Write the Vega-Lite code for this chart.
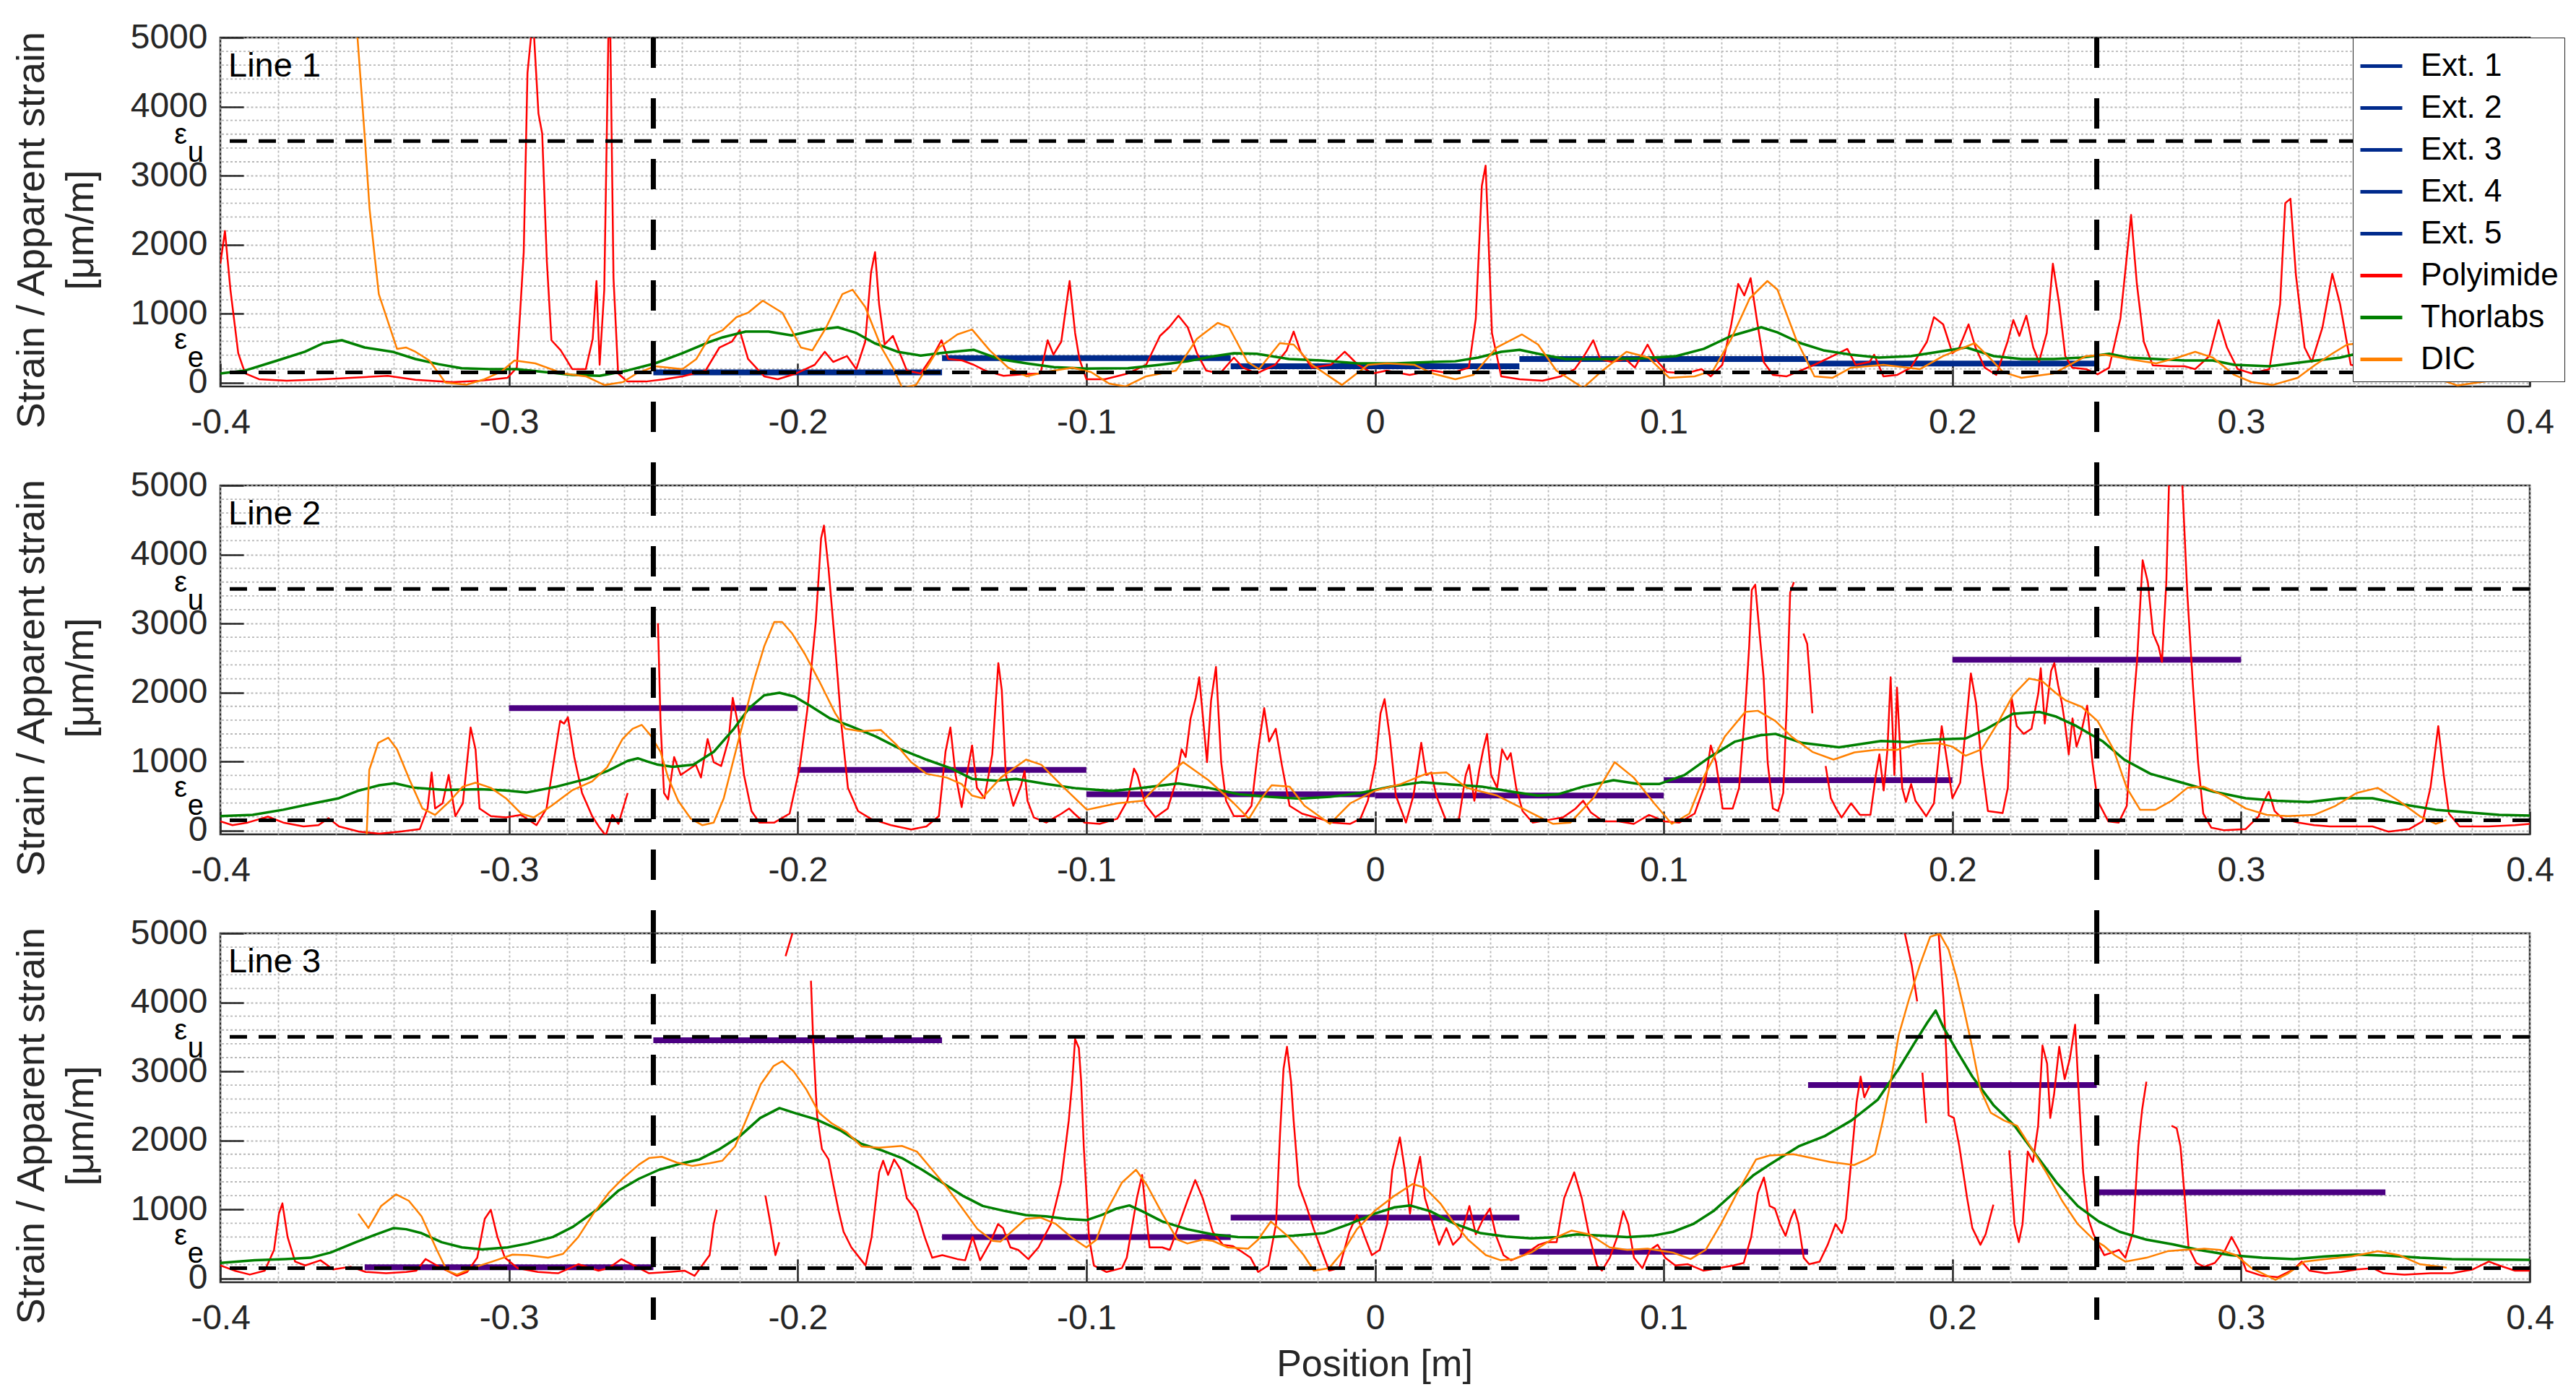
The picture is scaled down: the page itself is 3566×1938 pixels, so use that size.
{
  "$schema": "https://vega.github.io/schema/vega-lite/v6.json",
  "background": "white",
  "padding": {"left": 15, "top": 26, "right": 10, "bottom": 10},
  "bounds": "flush",
  "title": {"text": "Position [m]", "orient": "bottom", "anchor": "middle", "frame": "group", "dx": 1598, "fontSize": 52, "fontWeight": "normal", "font": "Liberation Sans", "color": "#262626", "offset": 14},
  "data": {"values": [
    {"p":1,"s":"g","y":200},{"p":1,"s":"g","y":400},{"p":1,"s":"g","y":600},{"p":1,"s":"g","y":800},{"p":1,"s":"g","y":1200},{"p":1,"s":"g","y":1400},{"p":1,"s":"g","y":1600},{"p":1,"s":"g","y":1800},{"p":1,"s":"g","y":2200},{"p":1,"s":"g","y":2400},{"p":1,"s":"g","y":2600},{"p":1,"s":"g","y":2800},{"p":1,"s":"g","y":3200},{"p":1,"s":"g","y":3400},{"p":1,"s":"g","y":3600},{"p":1,"s":"g","y":3800},{"p":1,"s":"g","y":4200},{"p":1,"s":"g","y":4400},{"p":1,"s":"g","y":4600},{"p":1,"s":"g","y":4800},
    {"p":2,"s":"g","y":200},{"p":2,"s":"g","y":400},{"p":2,"s":"g","y":600},{"p":2,"s":"g","y":800},{"p":2,"s":"g","y":1200},{"p":2,"s":"g","y":1400},{"p":2,"s":"g","y":1600},{"p":2,"s":"g","y":1800},{"p":2,"s":"g","y":2200},{"p":2,"s":"g","y":2400},{"p":2,"s":"g","y":2600},{"p":2,"s":"g","y":2800},{"p":2,"s":"g","y":3200},{"p":2,"s":"g","y":3400},{"p":2,"s":"g","y":3600},{"p":2,"s":"g","y":3800},{"p":2,"s":"g","y":4200},{"p":2,"s":"g","y":4400},{"p":2,"s":"g","y":4600},{"p":2,"s":"g","y":4800},
    {"p":3,"s":"g","y":200},{"p":3,"s":"g","y":400},{"p":3,"s":"g","y":600},{"p":3,"s":"g","y":800},{"p":3,"s":"g","y":1200},{"p":3,"s":"g","y":1400},{"p":3,"s":"g","y":1600},{"p":3,"s":"g","y":1800},{"p":3,"s":"g","y":2200},{"p":3,"s":"g","y":2400},{"p":3,"s":"g","y":2600},{"p":3,"s":"g","y":2800},{"p":3,"s":"g","y":3200},{"p":3,"s":"g","y":3400},{"p":3,"s":"g","y":3600},{"p":3,"s":"g","y":3800},{"p":3,"s":"g","y":4200},{"p":3,"s":"g","y":4400},{"p":3,"s":"g","y":4600},{"p":3,"s":"g","y":4800},
    {"p":1,"s":"lab","t":"Line 1"},{"p":2,"s":"lab","t":"Line 2"},{"p":3,"s":"lab","t":"Line 3"},
    {"p":1,"s":"lim","k":"u","y":3500},{"p":1,"s":"lim","k":"e","y":150},
    {"p":2,"s":"lim","k":"u","y":3500},{"p":2,"s":"lim","k":"e","y":150},
    {"p":3,"s":"lim","k":"u","y":3500},{"p":3,"s":"lim","k":"e","y":150},
    {"p":1,"s":"sec","x":-0.25,"y":5000,"y2":-1495},{"p":1,"s":"sec","x":0.25,"y":5000,"y2":-1495},
    {"p":2,"s":"sec","x":-0.25,"y":5000,"y2":-1495},{"p":2,"s":"sec","x":0.25,"y":5000,"y2":-1495},
    {"p":3,"s":"sec","x":-0.25,"y":5000,"y2":-600},{"p":3,"s":"sec","x":0.25,"y":5000,"y2":-600},
    {"p":1,"s":"Ext. 1","x":-0.25,"x2":-0.15,"y":150},{"p":1,"s":"Ext. 2","x":-0.15,"x2":-0.05,"y":356},
    {"p":1,"s":"Ext. 3","x":-0.05,"x2":0.05,"y":238},{"p":1,"s":"Ext. 4","x":0.05,"x2":0.15,"y":343},
    {"p":1,"s":"Ext. 5","x":0.15,"x2":0.25,"y":276},
    {"p":2,"s":"X","x":-0.3,"x2":-0.2,"y":1773},{"p":2,"s":"X","x":-0.2,"x2":-0.1,"y":880},
    {"p":2,"s":"X","x":-0.1,"x2":0,"y":525},{"p":2,"s":"X","x":0,"x2":0.1,"y":507},
    {"p":2,"s":"X","x":0.1,"x2":0.2,"y":730},{"p":2,"s":"X","x":0.2,"x2":0.3,"y":2474},
    {"p":3,"s":"X","x":-0.35,"x2":-0.25,"y":161},{"p":3,"s":"X","x":-0.25,"x2":-0.15,"y":3450},
    {"p":3,"s":"X","x":-0.15,"x2":-0.05,"y":600},{"p":3,"s":"X","x":-0.05,"x2":0.05,"y":881},
    {"p":3,"s":"X","x":0.05,"x2":0.15,"y":386},{"p":3,"s":"X","x":0.15,"x2":0.25,"y":2801},
    {"p":3,"s":"X","x":0.25,"x2":0.35,"y":1249},

    {"p":1,"s":"P","x":-0.4,"y":1724},{"p":1,"s":"P","x":-0.3984,"y":2197},{"p":1,"s":"P","x":-0.3965,"y":1347},{"p":1,"s":"P","x":-0.3938,"y":427},{"p":1,"s":"P","x":-0.3914,"y":134},{"p":1,"s":"P","x":-0.3866,"y":50},{"p":1,"s":"P","x":-0.377,"y":29},{"p":1,"s":"P","x":-0.364,"y":50},{"p":1,"s":"P","x":-0.3547,"y":71},{"p":1,"s":"P","x":-0.342,"y":100},{"p":1,"s":"P","x":-0.3324,"y":42},{"p":1,"s":"P","x":-0.3196,"y":8},{"p":1,"s":"P","x":-0.31,"y":29},{"p":1,"s":"P","x":-0.3005,"y":71},{"p":1,"s":"P","x":-0.2973,"y":218},{"p":1,"s":"P","x":-0.2949,"y":1891},{"p":1,"s":"P","x":-0.2936,"y":4485},{"p":1,"s":"P","x":-0.2917,"y":5300},{"p":1,"s":"P","x":-0.2898,"y":3900},{"p":1,"s":"P","x":-0.2885,"y":3607},{"p":1,"s":"P","x":-0.2869,"y":1766},{"p":1,"s":"P","x":-0.2853,"y":615},{"p":1,"s":"P","x":-0.2821,"y":469},{"p":1,"s":"P","x":-0.2781,"y":197},{"p":1,"s":"P","x":-0.2734,"y":197},{"p":1,"s":"P","x":-0.271,"y":636},{"p":1,"s":"P","x":-0.2697,"y":1473},{"p":1,"s":"P","x":-0.2686,"y":259},{"p":1,"s":"P","x":-0.267,"y":1347},{"p":1,"s":"P","x":-0.2652,"y":6000},{"p":1,"s":"P","x":-0.2638,"y":1515},{"p":1,"s":"P","x":-0.2622,"y":134},{"p":1,"s":"P","x":-0.259,"y":17},{"p":1,"s":"P","x":-0.2526,"y":17},{"p":1,"s":"P","x":-0.2462,"y":50},{"p":1,"s":"P","x":-0.2399,"y":92},{"p":1,"s":"P","x":-0.2319,"y":176},{"p":1,"s":"P","x":-0.2271,"y":510},{"p":1,"s":"P","x":-0.2228,"y":594},{"p":1,"s":"P","x":-0.2201,"y":761},{"p":1,"s":"P","x":-0.2172,"y":343},{"p":1,"s":"P","x":-0.2116,"y":92},{"p":1,"s":"P","x":-0.2069,"y":50},{"p":1,"s":"P","x":-0.2005,"y":134},{"p":1,"s":"P","x":-0.1941,"y":259},{"p":1,"s":"P","x":-0.1906,"y":448},{"p":1,"s":"P","x":-0.1877,"y":301},{"p":1,"s":"P","x":-0.1829,"y":385},{"p":1,"s":"P","x":-0.1797,"y":197},{"p":1,"s":"P","x":-0.1766,"y":594},{"p":1,"s":"P","x":-0.1746,"y":1598},{"p":1,"s":"P","x":-0.1732,"y":1891},{"p":1,"s":"P","x":-0.1718,"y":1138},{"p":1,"s":"P","x":-0.1699,"y":552},{"p":1,"s":"P","x":-0.167,"y":678},{"p":1,"s":"P","x":-0.1646,"y":427},{"p":1,"s":"P","x":-0.1622,"y":176},{"p":1,"s":"P","x":-0.1574,"y":134},{"p":1,"s":"P","x":-0.1526,"y":427},{"p":1,"s":"P","x":-0.1502,"y":615},{"p":1,"s":"P","x":-0.1478,"y":343},{"p":1,"s":"P","x":-0.143,"y":322},{"p":1,"s":"P","x":-0.139,"y":259},{"p":1,"s":"P","x":-0.1351,"y":176},{"p":1,"s":"P","x":-0.1287,"y":100},{"p":1,"s":"P","x":-0.1207,"y":126},{"p":1,"s":"P","x":-0.1159,"y":134},{"p":1,"s":"P","x":-0.1134,"y":615},{"p":1,"s":"P","x":-0.1114,"y":406},{"p":1,"s":"P","x":-0.1087,"y":594},{"p":1,"s":"P","x":-0.1058,"y":1473},{"p":1,"s":"P","x":-0.1039,"y":720},{"p":1,"s":"P","x":-0.1024,"y":343},{"p":1,"s":"P","x":-0.1,"y":50},{"p":1,"s":"P","x":-0.0936,"y":50},{"p":1,"s":"P","x":-0.0856,"y":134},{"p":1,"s":"P","x":-0.0793,"y":259},{"p":1,"s":"P","x":-0.0745,"y":678},{"p":1,"s":"P","x":-0.0713,"y":803},{"p":1,"s":"P","x":-0.0681,"y":971},{"p":1,"s":"P","x":-0.0649,"y":803},{"p":1,"s":"P","x":-0.0617,"y":427},{"p":1,"s":"P","x":-0.0585,"y":176},{"p":1,"s":"P","x":-0.0537,"y":134},{"p":1,"s":"P","x":-0.0489,"y":364},{"p":1,"s":"P","x":-0.0458,"y":218},{"p":1,"s":"P","x":-0.041,"y":134},{"p":1,"s":"P","x":-0.0346,"y":259},{"p":1,"s":"P","x":-0.0306,"y":469},{"p":1,"s":"P","x":-0.0282,"y":741},{"p":1,"s":"P","x":-0.0258,"y":448},{"p":1,"s":"P","x":-0.0218,"y":218},{"p":1,"s":"P","x":-0.0153,"y":259},{"p":1,"s":"P","x":-0.0105,"y":448},{"p":1,"s":"P","x":-0.0059,"y":259},{"p":1,"s":"P","x":-0.0008,"y":134},{"p":1,"s":"P","x":0.004,"y":176},{"p":1,"s":"P","x":0.012,"y":113},{"p":1,"s":"P","x":0.0199,"y":176},{"p":1,"s":"P","x":0.0262,"y":134},{"p":1,"s":"P","x":0.0325,"y":218},{"p":1,"s":"P","x":0.0349,"y":929},{"p":1,"s":"P","x":0.037,"y":2853},{"p":1,"s":"P","x":0.0383,"y":3146},{"p":1,"s":"P","x":0.0392,"y":2184},{"p":1,"s":"P","x":0.0405,"y":720},{"p":1,"s":"P","x":0.0437,"y":92},{"p":1,"s":"P","x":0.0501,"y":50},{"p":1,"s":"P","x":0.058,"y":29},{"p":1,"s":"P","x":0.0644,"y":92},{"p":1,"s":"P","x":0.0692,"y":197},{"p":1,"s":"P","x":0.0724,"y":385},{"p":1,"s":"P","x":0.0756,"y":615},{"p":1,"s":"P","x":0.078,"y":343},{"p":1,"s":"P","x":0.082,"y":301},{"p":1,"s":"P","x":0.0868,"y":343},{"p":1,"s":"P","x":0.09,"y":218},{"p":1,"s":"P","x":0.0944,"y":552},{"p":1,"s":"P","x":0.0971,"y":343},{"p":1,"s":"P","x":0.1011,"y":155},{"p":1,"s":"P","x":0.1075,"y":134},{"p":1,"s":"P","x":0.1131,"y":197},{"p":1,"s":"P","x":0.1163,"y":92},{"p":1,"s":"P","x":0.1203,"y":259},{"p":1,"s":"P","x":0.1234,"y":845},{"p":1,"s":"P","x":0.1258,"y":1431},{"p":1,"s":"P","x":0.1279,"y":1264},{"p":1,"s":"P","x":0.1301,"y":1515},{"p":1,"s":"P","x":0.1322,"y":929},{"p":1,"s":"P","x":0.1346,"y":301},{"p":1,"s":"P","x":0.1378,"y":113},{"p":1,"s":"P","x":0.1426,"y":92},{"p":1,"s":"P","x":0.1474,"y":176},{"p":1,"s":"P","x":0.1522,"y":259},{"p":1,"s":"P","x":0.1585,"y":385},{"p":1,"s":"P","x":0.1636,"y":490},{"p":1,"s":"P","x":0.1665,"y":259},{"p":1,"s":"P","x":0.1713,"y":301},{"p":1,"s":"P","x":0.1729,"y":406},{"p":1,"s":"P","x":0.1761,"y":92},{"p":1,"s":"P","x":0.1809,"y":113},{"p":1,"s":"P","x":0.1856,"y":218},{"p":1,"s":"P","x":0.1912,"y":594},{"p":1,"s":"P","x":0.1936,"y":950},{"p":1,"s":"P","x":0.1968,"y":845},{"p":1,"s":"P","x":0.2,"y":427},{"p":1,"s":"P","x":0.2024,"y":510},{"p":1,"s":"P","x":0.2056,"y":845},{"p":1,"s":"P","x":0.208,"y":510},{"p":1,"s":"P","x":0.2112,"y":218},{"p":1,"s":"P","x":0.2152,"y":113},{"p":1,"s":"P","x":0.2191,"y":594},{"p":1,"s":"P","x":0.2211,"y":908},{"p":1,"s":"P","x":0.2232,"y":678},{"p":1,"s":"P","x":0.2256,"y":971},{"p":1,"s":"P","x":0.228,"y":510},{"p":1,"s":"P","x":0.23,"y":301},{"p":1,"s":"P","x":0.2327,"y":720},{"p":1,"s":"P","x":0.2348,"y":1724},{"p":1,"s":"P","x":0.237,"y":1138},{"p":1,"s":"P","x":0.2391,"y":385},{"p":1,"s":"P","x":0.2415,"y":218},{"p":1,"s":"P","x":0.2463,"y":197},{"p":1,"s":"P","x":0.2503,"y":121},{"p":1,"s":"P","x":0.2543,"y":218},{"p":1,"s":"P","x":0.2582,"y":929},{"p":1,"s":"P","x":0.2619,"y":2430},{"p":1,"s":"P","x":0.2639,"y":1431},{"p":1,"s":"P","x":0.2663,"y":594},{"p":1,"s":"P","x":0.2694,"y":251},{"p":1,"s":"P","x":0.2755,"y":238},{"p":1,"s":"P","x":0.2804,"y":238},{"p":1,"s":"P","x":0.2841,"y":197},{"p":1,"s":"P","x":0.289,"y":385},{"p":1,"s":"P","x":0.2922,"y":908},{"p":1,"s":"P","x":0.2951,"y":510},{"p":1,"s":"P","x":0.2988,"y":197},{"p":1,"s":"P","x":0.3037,"y":134},{"p":1,"s":"P","x":0.3098,"y":197},{"p":1,"s":"P","x":0.3135,"y":1138},{"p":1,"s":"P","x":0.3153,"y":2602},{"p":1,"s":"P","x":0.3171,"y":2665},{"p":1,"s":"P","x":0.319,"y":1556},{"p":1,"s":"P","x":0.322,"y":510},{"p":1,"s":"P","x":0.3245,"y":301},{"p":1,"s":"P","x":0.3282,"y":803},{"p":1,"s":"P","x":0.3316,"y":1577},{"p":1,"s":"P","x":0.3343,"y":1138},{"p":1,"s":"P","x":0.338,"y":259},{"p":1,"s":"P","x":0.345,"y":200},{"p":1,"s":"P","x":0.36,"y":100},{"p":1,"s":"P","x":0.38,"y":150},{"p":1,"s":"P","x":0.4,"y":100},

    {"p":1,"s":"T","x":-0.4,"y":134},{"p":1,"s":"T","x":-0.3914,"y":176},{"p":1,"s":"T","x":-0.3802,"y":322},{"p":1,"s":"T","x":-0.3707,"y":448},{"p":1,"s":"T","x":-0.3643,"y":573},{"p":1,"s":"T","x":-0.3579,"y":615},{"p":1,"s":"T","x":-0.35,"y":510},{"p":1,"s":"T","x":-0.3404,"y":448},{"p":1,"s":"T","x":-0.3324,"y":343},{"p":1,"s":"T","x":-0.3244,"y":268},{"p":1,"s":"T","x":-0.3164,"y":209},{"p":1,"s":"T","x":-0.3069,"y":197},{"p":1,"s":"T","x":-0.2973,"y":197},{"p":1,"s":"T","x":-0.2877,"y":155},{"p":1,"s":"T","x":-0.2781,"y":113},{"p":1,"s":"T","x":-0.2686,"y":100},{"p":1,"s":"T","x":-0.259,"y":176},{"p":1,"s":"T","x":-0.2494,"y":280},{"p":1,"s":"T","x":-0.2399,"y":427},{"p":1,"s":"T","x":-0.2303,"y":594},{"p":1,"s":"T","x":-0.226,"y":657},{"p":1,"s":"T","x":-0.218,"y":741},{"p":1,"s":"T","x":-0.2101,"y":741},{"p":1,"s":"T","x":-0.2021,"y":686},{"p":1,"s":"T","x":-0.1941,"y":761},{"p":1,"s":"T","x":-0.1861,"y":803},{"p":1,"s":"T","x":-0.1797,"y":720},{"p":1,"s":"T","x":-0.1734,"y":573},{"p":1,"s":"T","x":-0.1654,"y":448},{"p":1,"s":"T","x":-0.1574,"y":393},{"p":1,"s":"T","x":-0.1494,"y":435},{"p":1,"s":"T","x":-0.1391,"y":477},{"p":1,"s":"T","x":-0.1303,"y":343},{"p":1,"s":"T","x":-0.1207,"y":280},{"p":1,"s":"T","x":-0.1112,"y":226},{"p":1,"s":"T","x":-0.1,"y":205},{"p":1,"s":"T","x":-0.0856,"y":209},{"p":1,"s":"T","x":-0.0745,"y":259},{"p":1,"s":"T","x":-0.0649,"y":310},{"p":1,"s":"T","x":-0.0569,"y":377},{"p":1,"s":"T","x":-0.0489,"y":427},{"p":1,"s":"T","x":-0.041,"y":418},{"p":1,"s":"T","x":-0.0298,"y":343},{"p":1,"s":"T","x":-0.0187,"y":322},{"p":1,"s":"T","x":-0.0059,"y":280},{"p":1,"s":"T","x":0.0072,"y":280},{"p":1,"s":"T","x":0.0199,"y":301},{"p":1,"s":"T","x":0.0278,"y":310},{"p":1,"s":"T","x":0.0357,"y":364},{"p":1,"s":"T","x":0.0437,"y":448},{"p":1,"s":"T","x":0.0501,"y":477},{"p":1,"s":"T","x":0.058,"y":406},{"p":1,"s":"T","x":0.066,"y":343},{"p":1,"s":"T","x":0.0788,"y":343},{"p":1,"s":"T","x":0.0915,"y":351},{"p":1,"s":"T","x":0.1043,"y":385},{"p":1,"s":"T","x":0.1139,"y":490},{"p":1,"s":"T","x":0.1234,"y":678},{"p":1,"s":"T","x":0.1338,"y":803},{"p":1,"s":"T","x":0.1394,"y":728},{"p":1,"s":"T","x":0.1474,"y":573},{"p":1,"s":"T","x":0.1553,"y":469},{"p":1,"s":"T","x":0.1649,"y":406},{"p":1,"s":"T","x":0.1745,"y":364},{"p":1,"s":"T","x":0.1856,"y":385},{"p":1,"s":"T","x":0.1952,"y":448},{"p":1,"s":"T","x":0.2048,"y":510},{"p":1,"s":"T","x":0.2144,"y":385},{"p":1,"s":"T","x":0.224,"y":343},{"p":1,"s":"T","x":0.2351,"y":343},{"p":1,"s":"T","x":0.2447,"y":364},{"p":1,"s":"T","x":0.2543,"y":418},{"p":1,"s":"T","x":0.2608,"y":364},{"p":1,"s":"T","x":0.2706,"y":343},{"p":1,"s":"T","x":0.2804,"y":322},{"p":1,"s":"T","x":0.2902,"y":322},{"p":1,"s":"T","x":0.2976,"y":259},{"p":1,"s":"T","x":0.3098,"y":238},{"p":1,"s":"T","x":0.322,"y":301},{"p":1,"s":"T","x":0.3343,"y":364},{"p":1,"s":"T","x":0.3386,"y":406},{"p":1,"s":"T","x":0.36,"y":400},{"p":1,"s":"T","x":0.38,"y":380},{"p":1,"s":"T","x":0.4,"y":400},

    {"p":1,"s":"D","x":-0.353,"y":5300},{"p":1,"s":"D","x":-0.3499,"y":3523},{"p":1,"s":"D","x":-0.3483,"y":2519},{"p":1,"s":"D","x":-0.3451,"y":1284},{"p":1,"s":"D","x":-0.3388,"y":490},{"p":1,"s":"D","x":-0.3356,"y":510},{"p":1,"s":"D","x":-0.3324,"y":448},{"p":1,"s":"D","x":-0.3276,"y":322},{"p":1,"s":"D","x":-0.322,"y":0},{"p":1,"s":"D","x":-0.3148,"y":-30},{"p":1,"s":"D","x":-0.3085,"y":50},{"p":1,"s":"D","x":-0.3029,"y":155},{"p":1,"s":"D","x":-0.2981,"y":322},{"p":1,"s":"D","x":-0.2909,"y":280},{"p":1,"s":"D","x":-0.2813,"y":134},{"p":1,"s":"D","x":-0.2734,"y":92},{"p":1,"s":"D","x":-0.267,"y":-33},{"p":1,"s":"D","x":-0.2606,"y":8},{"p":1,"s":"D","x":-0.2558,"y":134},{"p":1,"s":"D","x":-0.2494,"y":238},{"p":1,"s":"D","x":-0.2399,"y":197},{"p":1,"s":"D","x":-0.2351,"y":343},{"p":1,"s":"D","x":-0.2303,"y":678},{"p":1,"s":"D","x":-0.226,"y":761},{"p":1,"s":"D","x":-0.2212,"y":950},{"p":1,"s":"D","x":-0.2172,"y":1013},{"p":1,"s":"D","x":-0.2121,"y":1188},{"p":1,"s":"D","x":-0.2053,"y":1013},{"p":1,"s":"D","x":-0.1989,"y":510},{"p":1,"s":"D","x":-0.1949,"y":469},{"p":1,"s":"D","x":-0.1901,"y":803},{"p":1,"s":"D","x":-0.1845,"y":1284},{"p":1,"s":"D","x":-0.181,"y":1347},{"p":1,"s":"D","x":-0.1766,"y":1096},{"p":1,"s":"D","x":-0.171,"y":510},{"p":1,"s":"D","x":-0.167,"y":218},{"p":1,"s":"D","x":-0.1638,"y":-75},{"p":1,"s":"D","x":-0.159,"y":-33},{"p":1,"s":"D","x":-0.151,"y":510},{"p":1,"s":"D","x":-0.1447,"y":699},{"p":1,"s":"D","x":-0.1396,"y":770},{"p":1,"s":"D","x":-0.1335,"y":469},{"p":1,"s":"D","x":-0.1271,"y":218},{"p":1,"s":"D","x":-0.1207,"y":92},{"p":1,"s":"D","x":-0.1144,"y":155},{"p":1,"s":"D","x":-0.1048,"y":218},{"p":1,"s":"D","x":-0.0984,"y":155},{"p":1,"s":"D","x":-0.0921,"y":-13},{"p":1,"s":"D","x":-0.0864,"y":-54},{"p":1,"s":"D","x":-0.0793,"y":92},{"p":1,"s":"D","x":-0.0689,"y":176},{"p":1,"s":"D","x":-0.0617,"y":636},{"p":1,"s":"D","x":-0.0545,"y":866},{"p":1,"s":"D","x":-0.0506,"y":803},{"p":1,"s":"D","x":-0.0442,"y":301},{"p":1,"s":"D","x":-0.0402,"y":197},{"p":1,"s":"D","x":-0.033,"y":573},{"p":1,"s":"D","x":-0.0282,"y":552},{"p":1,"s":"D","x":-0.0218,"y":259},{"p":1,"s":"D","x":-0.0115,"y":-33},{"p":1,"s":"D","x":-0.0024,"y":259},{"p":1,"s":"D","x":0.004,"y":280},{"p":1,"s":"D","x":0.0136,"y":259},{"p":1,"s":"D","x":0.0199,"y":134},{"p":1,"s":"D","x":0.0278,"y":50},{"p":1,"s":"D","x":0.0341,"y":113},{"p":1,"s":"D","x":0.0421,"y":510},{"p":1,"s":"D","x":0.0509,"y":699},{"p":1,"s":"D","x":0.0565,"y":552},{"p":1,"s":"D","x":0.0628,"y":176},{"p":1,"s":"D","x":0.0721,"y":-75},{"p":1,"s":"D","x":0.0788,"y":176},{"p":1,"s":"D","x":0.0871,"y":448},{"p":1,"s":"D","x":0.0947,"y":364},{"p":1,"s":"D","x":0.1019,"y":71},{"p":1,"s":"D","x":0.1107,"y":92},{"p":1,"s":"D","x":0.1171,"y":176},{"p":1,"s":"D","x":0.1234,"y":636},{"p":1,"s":"D","x":0.1298,"y":1222},{"p":1,"s":"D","x":0.1359,"y":1473},{"p":1,"s":"D","x":0.1394,"y":1347},{"p":1,"s":"D","x":0.1458,"y":636},{"p":1,"s":"D","x":0.1522,"y":92},{"p":1,"s":"D","x":0.1585,"y":71},{"p":1,"s":"D","x":0.1649,"y":218},{"p":1,"s":"D","x":0.1761,"y":259},{"p":1,"s":"D","x":0.1888,"y":197},{"p":1,"s":"D","x":0.1968,"y":385},{"p":1,"s":"D","x":0.2077,"y":573},{"p":1,"s":"D","x":0.2128,"y":364},{"p":1,"s":"D","x":0.2175,"y":155},{"p":1,"s":"D","x":0.2239,"y":71},{"p":1,"s":"D","x":0.2351,"y":134},{"p":1,"s":"D","x":0.2463,"y":385},{"p":1,"s":"D","x":0.2526,"y":406},{"p":1,"s":"D","x":0.2608,"y":343},{"p":1,"s":"D","x":0.2706,"y":280},{"p":1,"s":"D","x":0.278,"y":364},{"p":1,"s":"D","x":0.2841,"y":448},{"p":1,"s":"D","x":0.2902,"y":364},{"p":1,"s":"D","x":0.2976,"y":113},{"p":1,"s":"D","x":0.3037,"y":8},{"p":1,"s":"D","x":0.311,"y":-33},{"p":1,"s":"D","x":0.3196,"y":71},{"p":1,"s":"D","x":0.3257,"y":259},{"p":1,"s":"D","x":0.3318,"y":427},{"p":1,"s":"D","x":0.3367,"y":552},{"p":1,"s":"D","x":0.3386,"y":561},{"p":1,"s":"D","x":0.35,"y":400},{"p":1,"s":"D","x":0.365,"y":100},{"p":1,"s":"D","x":0.375,"y":-40},{"p":1,"s":"D","x":0.39,"y":50},{"p":1,"s":"D","x":0.4,"y":100},

    {"p":2,"s":"P","x":-0.4,"y":134},{"p":2,"s":"P","x":-0.3958,"y":78},{"p":2,"s":"P","x":-0.3905,"y":116},{"p":2,"s":"P","x":-0.3835,"y":201},{"p":2,"s":"P","x":-0.3782,"y":116},{"p":2,"s":"P","x":-0.3712,"y":60},{"p":2,"s":"P","x":-0.366,"y":78},{"p":2,"s":"P","x":-0.3625,"y":179},{"p":2,"s":"P","x":-0.3589,"y":60},{"p":2,"s":"P","x":-0.3519,"y":-15},{"p":2,"s":"P","x":-0.3449,"y":-45},{"p":2,"s":"P","x":-0.3379,"y":-15},{"p":2,"s":"P","x":-0.3309,"y":22},{"p":2,"s":"P","x":-0.3282,"y":320},{"p":2,"s":"P","x":-0.3268,"y":842},{"p":2,"s":"P","x":-0.3256,"y":320},{"p":2,"s":"P","x":-0.323,"y":395},{"p":2,"s":"P","x":-0.3209,"y":805},{"p":2,"s":"P","x":-0.3186,"y":209},{"p":2,"s":"P","x":-0.316,"y":395},{"p":2,"s":"P","x":-0.3133,"y":1494},{"p":2,"s":"P","x":-0.3116,"y":1177},{"p":2,"s":"P","x":-0.3102,"y":320},{"p":2,"s":"P","x":-0.3063,"y":209},{"p":2,"s":"P","x":-0.3011,"y":190},{"p":2,"s":"P","x":-0.2958,"y":227},{"p":2,"s":"P","x":-0.2905,"y":78},{"p":2,"s":"P","x":-0.287,"y":320},{"p":2,"s":"P","x":-0.2844,"y":1028},{"p":2,"s":"P","x":-0.2823,"y":1587},{"p":2,"s":"P","x":-0.2809,"y":1550},{"p":2,"s":"P","x":-0.2796,"y":1643},{"p":2,"s":"P","x":-0.2774,"y":1066},{"p":2,"s":"P","x":-0.2747,"y":544},{"p":2,"s":"P","x":-0.2712,"y":209},{"p":2,"s":"P","x":-0.2686,"y":41},{"p":2,"s":"P","x":-0.2665,"y":-71},{"p":2,"s":"P","x":-0.2642,"y":227},{"p":2,"s":"P","x":-0.2621,"y":97},{"p":2,"s":"P","x":-0.2589,"y":544},{"p":2,"s":"P","x":-0.254,"y":null},{"p":2,"s":"P","x":-0.2484,"y":3003},{"p":2,"s":"P","x":-0.2475,"y":1550},{"p":2,"s":"P","x":-0.2463,"y":544},{"p":2,"s":"P","x":-0.2449,"y":451},{"p":2,"s":"P","x":-0.2428,"y":1066},{"p":2,"s":"P","x":-0.2405,"y":805},{"p":2,"s":"P","x":-0.2353,"y":954},{"p":2,"s":"P","x":-0.2335,"y":768},{"p":2,"s":"P","x":-0.2312,"y":1326},{"p":2,"s":"P","x":-0.2291,"y":991},{"p":2,"s":"P","x":-0.2265,"y":935},{"p":2,"s":"P","x":-0.2239,"y":1326},{"p":2,"s":"P","x":-0.2225,"y":1923},{"p":2,"s":"P","x":-0.2207,"y":1550},{"p":2,"s":"P","x":-0.2186,"y":805},{"p":2,"s":"P","x":-0.216,"y":283},{"p":2,"s":"P","x":-0.2133,"y":116},{"p":2,"s":"P","x":-0.2081,"y":116},{"p":2,"s":"P","x":-0.2028,"y":246},{"p":2,"s":"P","x":-0.1993,"y":917},{"p":2,"s":"P","x":-0.1967,"y":1736},{"p":2,"s":"P","x":-0.1937,"y":3040},{"p":2,"s":"P","x":-0.1919,"y":4233},{"p":2,"s":"P","x":-0.1909,"y":4419},{"p":2,"s":"P","x":-0.1893,"y":3786},{"p":2,"s":"P","x":-0.187,"y":2668},{"p":2,"s":"P","x":-0.1849,"y":1550},{"p":2,"s":"P","x":-0.1826,"y":619},{"p":2,"s":"P","x":-0.1791,"y":283},{"p":2,"s":"P","x":-0.1747,"y":171},{"p":2,"s":"P","x":-0.1677,"y":78},{"p":2,"s":"P","x":-0.1607,"y":15},{"p":2,"s":"P","x":-0.1554,"y":60},{"p":2,"s":"P","x":-0.1511,"y":209},{"p":2,"s":"P","x":-0.1488,"y":1140},{"p":2,"s":"P","x":-0.1471,"y":1494},{"p":2,"s":"P","x":-0.1453,"y":805},{"p":2,"s":"P","x":-0.1432,"y":339},{"p":2,"s":"P","x":-0.1411,"y":879},{"p":2,"s":"P","x":-0.1396,"y":1233},{"p":2,"s":"P","x":-0.1379,"y":619},{"p":2,"s":"P","x":-0.1353,"y":469},{"p":2,"s":"P","x":-0.1326,"y":1103},{"p":2,"s":"P","x":-0.1305,"y":2426},{"p":2,"s":"P","x":-0.1293,"y":2034},{"p":2,"s":"P","x":-0.1279,"y":805},{"p":2,"s":"P","x":-0.1253,"y":358},{"p":2,"s":"P","x":-0.1226,"y":656},{"p":2,"s":"P","x":-0.1214,"y":861},{"p":2,"s":"P","x":-0.1204,"y":432},{"p":2,"s":"P","x":-0.1182,"y":190},{"p":2,"s":"P","x":-0.1139,"y":116},{"p":2,"s":"P","x":-0.1086,"y":246},{"p":2,"s":"P","x":-0.106,"y":320},{"p":2,"s":"P","x":-0.1042,"y":246},{"p":2,"s":"P","x":-0.1007,"y":116},{"p":2,"s":"P","x":-0.0954,"y":97},{"p":2,"s":"P","x":-0.0893,"y":171},{"p":2,"s":"P","x":-0.0858,"y":432},{"p":2,"s":"P","x":-0.0835,"y":898},{"p":2,"s":"P","x":-0.0823,"y":805},{"p":2,"s":"P","x":-0.0796,"y":376},{"p":2,"s":"P","x":-0.0761,"y":190},{"p":2,"s":"P","x":-0.0718,"y":320},{"p":2,"s":"P","x":-0.0691,"y":693},{"p":2,"s":"P","x":-0.067,"y":1177},{"p":2,"s":"P","x":-0.0656,"y":1066},{"p":2,"s":"P","x":-0.0639,"y":1625},{"p":2,"s":"P","x":-0.0621,"y":1923},{"p":2,"s":"P","x":-0.0609,"y":2221},{"p":2,"s":"P","x":-0.0595,"y":1587},{"p":2,"s":"P","x":-0.0582,"y":991},{"p":2,"s":"P","x":-0.0568,"y":1885},{"p":2,"s":"P","x":-0.0551,"y":2370},{"p":2,"s":"P","x":-0.0533,"y":991},{"p":2,"s":"P","x":-0.0516,"y":432},{"p":2,"s":"P","x":-0.0489,"y":209},{"p":2,"s":"P","x":-0.0454,"y":209},{"p":2,"s":"P","x":-0.0428,"y":358},{"p":2,"s":"P","x":-0.0405,"y":1177},{"p":2,"s":"P","x":-0.0384,"y":1774},{"p":2,"s":"P","x":-0.0367,"y":1289},{"p":2,"s":"P","x":-0.0344,"y":1475},{"p":2,"s":"P","x":-0.0323,"y":954},{"p":2,"s":"P","x":-0.0296,"y":358},{"p":2,"s":"P","x":-0.0253,"y":246},{"p":2,"s":"P","x":-0.0191,"y":171},{"p":2,"s":"P","x":-0.0147,"y":116},{"p":2,"s":"P","x":-0.0086,"y":97},{"p":2,"s":"P","x":-0.0051,"y":171},{"p":2,"s":"P","x":-0.0025,"y":432},{"p":2,"s":"P","x":0.0002,"y":991},{"p":2,"s":"P","x":0.0019,"y":1699},{"p":2,"s":"P","x":0.0033,"y":1904},{"p":2,"s":"P","x":0.0051,"y":1364},{"p":2,"s":"P","x":0.0072,"y":507},{"p":2,"s":"P","x":0.0107,"y":116},{"p":2,"s":"P","x":0.0133,"y":507},{"p":2,"s":"P","x":0.016,"y":1271},{"p":2,"s":"P","x":0.0177,"y":805},{"p":2,"s":"P","x":0.0195,"y":842},{"p":2,"s":"P","x":0.0212,"y":507},{"p":2,"s":"P","x":0.0247,"y":134},{"p":2,"s":"P","x":0.0291,"y":171},{"p":2,"s":"P","x":0.0314,"y":805},{"p":2,"s":"P","x":0.0326,"y":954},{"p":2,"s":"P","x":0.0344,"y":432},{"p":2,"s":"P","x":0.0361,"y":879},{"p":2,"s":"P","x":0.0375,"y":1177},{"p":2,"s":"P","x":0.0388,"y":1401},{"p":2,"s":"P","x":0.0402,"y":805},{"p":2,"s":"P","x":0.0423,"y":619},{"p":2,"s":"P","x":0.044,"y":1177},{"p":2,"s":"P","x":0.0458,"y":1028},{"p":2,"s":"P","x":0.047,"y":1122},{"p":2,"s":"P","x":0.0489,"y":619},{"p":2,"s":"P","x":0.0511,"y":283},{"p":2,"s":"P","x":0.0546,"y":116},{"p":2,"s":"P","x":0.0598,"y":153},{"p":2,"s":"P","x":0.0651,"y":190},{"p":2,"s":"P","x":0.0695,"y":320},{"p":2,"s":"P","x":0.0721,"y":432},{"p":2,"s":"P","x":0.0747,"y":265},{"p":2,"s":"P","x":0.0791,"y":134},{"p":2,"s":"P","x":0.0844,"y":134},{"p":2,"s":"P","x":0.0896,"y":97},{"p":2,"s":"P","x":0.0949,"y":227},{"p":2,"s":"P","x":0.1002,"y":134},{"p":2,"s":"P","x":0.1054,"y":116},{"p":2,"s":"P","x":0.1107,"y":246},{"p":2,"s":"P","x":0.1142,"y":656},{"p":2,"s":"P","x":0.1163,"y":1233},{"p":2,"s":"P","x":0.1181,"y":991},{"p":2,"s":"P","x":0.1204,"y":320},{"p":2,"s":"P","x":0.1239,"y":320},{"p":2,"s":"P","x":0.1261,"y":619},{"p":2,"s":"P","x":0.1282,"y":1736},{"p":2,"s":"P","x":0.1296,"y":2668},{"p":2,"s":"P","x":0.1305,"y":3488},{"p":2,"s":"P","x":0.1317,"y":3562},{"p":2,"s":"P","x":0.1332,"y":2855},{"p":2,"s":"P","x":0.1346,"y":2221},{"p":2,"s":"P","x":0.136,"y":991},{"p":2,"s":"P","x":0.1378,"y":320},{"p":2,"s":"P","x":0.1396,"y":283},{"p":2,"s":"P","x":0.1414,"y":544},{"p":2,"s":"P","x":0.1427,"y":1923},{"p":2,"s":"P","x":0.1438,"y":3450},{"p":2,"s":"P","x":0.1451,"y":3599},{"p":2,"s":"P","x":0.1465,"y":null},{"p":2,"s":"P","x":0.1484,"y":2854},{"p":2,"s":"P","x":0.1497,"y":2705},{"p":2,"s":"P","x":0.1506,"y":2221},{"p":2,"s":"P","x":0.1515,"y":1699},{"p":2,"s":"P","x":0.1535,"y":null},{"p":2,"s":"P","x":0.1561,"y":935},{"p":2,"s":"P","x":0.1579,"y":469},{"p":2,"s":"P","x":0.1597,"y":320},{"p":2,"s":"P","x":0.1616,"y":190},{"p":2,"s":"P","x":0.1649,"y":395},{"p":2,"s":"P","x":0.168,"y":227},{"p":2,"s":"P","x":0.1716,"y":227},{"p":2,"s":"P","x":0.1735,"y":805},{"p":2,"s":"P","x":0.1747,"y":1103},{"p":2,"s":"P","x":0.1762,"y":581},{"p":2,"s":"P","x":0.1775,"y":1177},{"p":2,"s":"P","x":0.1786,"y":2221},{"p":2,"s":"P","x":0.1799,"y":805},{"p":2,"s":"P","x":0.1808,"y":2072},{"p":2,"s":"P","x":0.1826,"y":619},{"p":2,"s":"P","x":0.1839,"y":414},{"p":2,"s":"P","x":0.1857,"y":674},{"p":2,"s":"P","x":0.1872,"y":432},{"p":2,"s":"P","x":0.1909,"y":209},{"p":2,"s":"P","x":0.1936,"y":395},{"p":2,"s":"P","x":0.1963,"y":1513},{"p":2,"s":"P","x":0.1982,"y":991},{"p":2,"s":"P","x":0.2,"y":469},{"p":2,"s":"P","x":0.2027,"y":693},{"p":2,"s":"P","x":0.2046,"y":1475},{"p":2,"s":"P","x":0.2064,"y":2277},{"p":2,"s":"P","x":0.2082,"y":1848},{"p":2,"s":"P","x":0.2101,"y":991},{"p":2,"s":"P","x":0.2123,"y":283},{"p":2,"s":"P","x":0.2174,"y":253},{"p":2,"s":"P","x":0.2192,"y":619},{"p":2,"s":"P","x":0.2205,"y":1923},{"p":2,"s":"P","x":0.2223,"y":1513},{"p":2,"s":"P","x":0.2247,"y":1401},{"p":2,"s":"P","x":0.2274,"y":1475},{"p":2,"s":"P","x":0.2298,"y":1997},{"p":2,"s":"P","x":0.2306,"y":2351},{"p":2,"s":"P","x":0.232,"y":1550},{"p":2,"s":"P","x":0.2342,"y":2314},{"p":2,"s":"P","x":0.2353,"y":2426},{"p":2,"s":"P","x":0.2366,"y":2109},{"p":2,"s":"P","x":0.2379,"y":1848},{"p":2,"s":"P","x":0.239,"y":1550},{"p":2,"s":"P","x":0.2403,"y":1103},{"p":2,"s":"P","x":0.2416,"y":1625},{"p":2,"s":"P","x":0.243,"y":1215},{"p":2,"s":"P","x":0.2445,"y":1401},{"p":2,"s":"P","x":0.2467,"y":1811},{"p":2,"s":"P","x":0.2485,"y":991},{"p":2,"s":"P","x":0.2503,"y":432},{"p":2,"s":"P","x":0.254,"y":134},{"p":2,"s":"P","x":0.2576,"y":116},{"p":2,"s":"P","x":0.2604,"y":358},{"p":2,"s":"P","x":0.2622,"y":1550},{"p":2,"s":"P","x":0.264,"y":2482},{"p":2,"s":"P","x":0.2659,"y":3916},{"p":2,"s":"P","x":0.2677,"y":3599},{"p":2,"s":"P","x":0.2695,"y":2854},{"p":2,"s":"P","x":0.2714,"y":2668},{"p":2,"s":"P","x":0.2726,"y":2444},{"p":2,"s":"P","x":0.2741,"y":3599},{"p":2,"s":"P","x":0.2754,"y":5600},{"p":2,"s":"P","x":0.279,"y":5600},{"p":2,"s":"P","x":0.2814,"y":3413},{"p":2,"s":"P","x":0.2833,"y":2109},{"p":2,"s":"P","x":0.2851,"y":991},{"p":2,"s":"P","x":0.2869,"y":246},{"p":2,"s":"P","x":0.2897,"y":41},{"p":2,"s":"P","x":0.2942,"y":4},{"p":2,"s":"P","x":0.3016,"y":22},{"p":2,"s":"P","x":0.3061,"y":209},{"p":2,"s":"P","x":0.308,"y":432},{"p":2,"s":"P","x":0.3096,"y":563},{"p":2,"s":"P","x":0.3116,"y":283},{"p":2,"s":"P","x":0.3144,"y":171},{"p":2,"s":"P","x":0.3199,"y":116},{"p":2,"s":"P","x":0.3253,"y":78},{"p":2,"s":"P","x":0.3308,"y":60},{"p":2,"s":"P","x":0.3382,"y":60},{"p":2,"s":"P","x":0.3455,"y":60},{"p":2,"s":"P","x":0.351,"y":-15},{"p":2,"s":"P","x":0.3583,"y":22},{"p":2,"s":"P","x":0.3629,"y":134},{"p":2,"s":"P","x":0.3656,"y":619},{"p":2,"s":"P","x":0.3683,"y":1513},{"p":2,"s":"P","x":0.3702,"y":805},{"p":2,"s":"P","x":0.372,"y":246},{"p":2,"s":"P","x":0.3757,"y":60},{"p":2,"s":"P","x":0.3857,"y":60},{"p":2,"s":"P","x":0.3949,"y":78},{"p":2,"s":"P","x":0.4,"y":97},

    {"p":2,"s":"T","x":-0.4,"y":209},{"p":2,"s":"T","x":-0.3888,"y":227},{"p":2,"s":"T","x":-0.3782,"y":302},{"p":2,"s":"T","x":-0.3677,"y":395},{"p":2,"s":"T","x":-0.3589,"y":469},{"p":2,"s":"T","x":-0.3519,"y":581},{"p":2,"s":"T","x":-0.3449,"y":656},{"p":2,"s":"T","x":-0.3396,"y":686},{"p":2,"s":"T","x":-0.3326,"y":619},{"p":2,"s":"T","x":-0.3221,"y":589},{"p":2,"s":"T","x":-0.3098,"y":600},{"p":2,"s":"T","x":-0.3011,"y":581},{"p":2,"s":"T","x":-0.294,"y":551},{"p":2,"s":"T","x":-0.2835,"y":637},{"p":2,"s":"T","x":-0.273,"y":749},{"p":2,"s":"T","x":-0.266,"y":861},{"p":2,"s":"T","x":-0.2589,"y":1010},{"p":2,"s":"T","x":-0.2554,"y":1047},{"p":2,"s":"T","x":-0.2519,"y":999},{"p":2,"s":"T","x":-0.2484,"y":954},{"p":2,"s":"T","x":-0.2432,"y":924},{"p":2,"s":"T","x":-0.2361,"y":954},{"p":2,"s":"T","x":-0.2291,"y":1140},{"p":2,"s":"T","x":-0.2221,"y":1475},{"p":2,"s":"T","x":-0.2168,"y":1774},{"p":2,"s":"T","x":-0.2116,"y":1960},{"p":2,"s":"T","x":-0.2063,"y":1997},{"p":2,"s":"T","x":-0.2011,"y":1941},{"p":2,"s":"T","x":-0.1958,"y":1811},{"p":2,"s":"T","x":-0.1888,"y":1625},{"p":2,"s":"T","x":-0.1817,"y":1513},{"p":2,"s":"T","x":-0.173,"y":1364},{"p":2,"s":"T","x":-0.1642,"y":1177},{"p":2,"s":"T","x":-0.1554,"y":1028},{"p":2,"s":"T","x":-0.1467,"y":898},{"p":2,"s":"T","x":-0.1396,"y":749},{"p":2,"s":"T","x":-0.1312,"y":723},{"p":2,"s":"T","x":-0.1244,"y":749},{"p":2,"s":"T","x":-0.1139,"y":674},{"p":2,"s":"T","x":-0.1033,"y":611},{"p":2,"s":"T","x":-0.0911,"y":574},{"p":2,"s":"T","x":-0.0805,"y":619},{"p":2,"s":"T","x":-0.0682,"y":682},{"p":2,"s":"T","x":-0.0577,"y":619},{"p":2,"s":"T","x":-0.0472,"y":525},{"p":2,"s":"T","x":-0.0367,"y":488},{"p":2,"s":"T","x":-0.0261,"y":462},{"p":2,"s":"T","x":-0.0156,"y":488},{"p":2,"s":"T","x":-0.0051,"y":544},{"p":2,"s":"T","x":0.0054,"y":637},{"p":2,"s":"T","x":0.016,"y":700},{"p":2,"s":"T","x":0.0265,"y":667},{"p":2,"s":"T","x":0.037,"y":637},{"p":2,"s":"T","x":0.0475,"y":563},{"p":2,"s":"T","x":0.0563,"y":507},{"p":2,"s":"T","x":0.0633,"y":525},{"p":2,"s":"T","x":0.0721,"y":637},{"p":2,"s":"T","x":0.0826,"y":730},{"p":2,"s":"T","x":0.0914,"y":674},{"p":2,"s":"T","x":0.0984,"y":674},{"p":2,"s":"T","x":0.1072,"y":805},{"p":2,"s":"T","x":0.116,"y":1066},{"p":2,"s":"T","x":0.1247,"y":1289},{"p":2,"s":"T","x":0.1335,"y":1382},{"p":2,"s":"T","x":0.1387,"y":1401},{"p":2,"s":"T","x":0.1478,"y":1271},{"p":2,"s":"T","x":0.1607,"y":1207},{"p":2,"s":"T","x":0.1753,"y":1297},{"p":2,"s":"T","x":0.1845,"y":1282},{"p":2,"s":"T","x":0.1936,"y":1319},{"p":2,"s":"T","x":0.2046,"y":1334},{"p":2,"s":"T","x":0.2119,"y":1475},{"p":2,"s":"T","x":0.221,"y":1692},{"p":2,"s":"T","x":0.2302,"y":1718},{"p":2,"s":"T","x":0.2357,"y":1654},{"p":2,"s":"T","x":0.243,"y":1513},{"p":2,"s":"T","x":0.2522,"y":1289},{"p":2,"s":"T","x":0.2595,"y":1028},{"p":2,"s":"T","x":0.2686,"y":823},{"p":2,"s":"T","x":0.2796,"y":693},{"p":2,"s":"T","x":0.2906,"y":563},{"p":2,"s":"T","x":0.3016,"y":469},{"p":2,"s":"T","x":0.3125,"y":432},{"p":2,"s":"T","x":0.3235,"y":414},{"p":2,"s":"T","x":0.3345,"y":469},{"p":2,"s":"T","x":0.3455,"y":469},{"p":2,"s":"T","x":0.3564,"y":376},{"p":2,"s":"T","x":0.3674,"y":302},{"p":2,"s":"T","x":0.3784,"y":265},{"p":2,"s":"T","x":0.3894,"y":227},{"p":2,"s":"T","x":0.4,"y":216},

    {"p":2,"s":"D","x":-0.3493,"y":-52},{"p":2,"s":"D","x":-0.3484,"y":879},{"p":2,"s":"D","x":-0.3453,"y":1271},{"p":2,"s":"D","x":-0.3418,"y":1345},{"p":2,"s":"D","x":-0.3388,"y":1177},{"p":2,"s":"D","x":-0.3344,"y":730},{"p":2,"s":"D","x":-0.33,"y":320},{"p":2,"s":"D","x":-0.3256,"y":227},{"p":2,"s":"D","x":-0.3204,"y":432},{"p":2,"s":"D","x":-0.316,"y":637},{"p":2,"s":"D","x":-0.3116,"y":693},{"p":2,"s":"D","x":-0.3063,"y":619},{"p":2,"s":"D","x":-0.3011,"y":469},{"p":2,"s":"D","x":-0.2958,"y":246},{"p":2,"s":"D","x":-0.2914,"y":190},{"p":2,"s":"D","x":-0.2853,"y":358},{"p":2,"s":"D","x":-0.2782,"y":581},{"p":2,"s":"D","x":-0.2712,"y":712},{"p":2,"s":"D","x":-0.266,"y":917},{"p":2,"s":"D","x":-0.2607,"y":1326},{"p":2,"s":"D","x":-0.2572,"y":1475},{"p":2,"s":"D","x":-0.254,"y":1531},{"p":2,"s":"D","x":-0.251,"y":1382},{"p":2,"s":"D","x":-0.2475,"y":1140},{"p":2,"s":"D","x":-0.2449,"y":768},{"p":2,"s":"D","x":-0.2414,"y":432},{"p":2,"s":"D","x":-0.237,"y":171},{"p":2,"s":"D","x":-0.233,"y":78},{"p":2,"s":"D","x":-0.2291,"y":116},{"p":2,"s":"D","x":-0.2256,"y":469},{"p":2,"s":"D","x":-0.2204,"y":1326},{"p":2,"s":"D","x":-0.2151,"y":2183},{"p":2,"s":"D","x":-0.2116,"y":2668},{"p":2,"s":"D","x":-0.2081,"y":3022},{"p":2,"s":"D","x":-0.2054,"y":3022},{"p":2,"s":"D","x":-0.2019,"y":2854},{"p":2,"s":"D","x":-0.1975,"y":2556},{"p":2,"s":"D","x":-0.1923,"y":2146},{"p":2,"s":"D","x":-0.187,"y":1699},{"p":2,"s":"D","x":-0.1835,"y":1475},{"p":2,"s":"D","x":-0.1782,"y":1438},{"p":2,"s":"D","x":-0.1712,"y":1457},{"p":2,"s":"D","x":-0.166,"y":1252},{"p":2,"s":"D","x":-0.1607,"y":991},{"p":2,"s":"D","x":-0.1554,"y":823},{"p":2,"s":"D","x":-0.1484,"y":768},{"p":2,"s":"D","x":-0.1432,"y":674},{"p":2,"s":"D","x":-0.1396,"y":507},{"p":2,"s":"D","x":-0.1361,"y":469},{"p":2,"s":"D","x":-0.1296,"y":768},{"p":2,"s":"D","x":-0.1209,"y":1028},{"p":2,"s":"D","x":-0.1156,"y":954},{"p":2,"s":"D","x":-0.1086,"y":656},{"p":2,"s":"D","x":-0.0998,"y":302},{"p":2,"s":"D","x":-0.0893,"y":395},{"p":2,"s":"D","x":-0.0805,"y":432},{"p":2,"s":"D","x":-0.0735,"y":730},{"p":2,"s":"D","x":-0.0665,"y":991},{"p":2,"s":"D","x":-0.0577,"y":730},{"p":2,"s":"D","x":-0.0489,"y":395},{"p":2,"s":"D","x":-0.0437,"y":171},{"p":2,"s":"D","x":-0.0393,"y":469},{"p":2,"s":"D","x":-0.0358,"y":656},{"p":2,"s":"D","x":-0.0296,"y":637},{"p":2,"s":"D","x":-0.0244,"y":358},{"p":2,"s":"D","x":-0.0156,"y":97},{"p":2,"s":"D","x":-0.0086,"y":395},{"p":2,"s":"D","x":0.0002,"y":581},{"p":2,"s":"D","x":0.0089,"y":674},{"p":2,"s":"D","x":0.0177,"y":823},{"p":2,"s":"D","x":0.0247,"y":842},{"p":2,"s":"D","x":0.0318,"y":619},{"p":2,"s":"D","x":0.0423,"y":507},{"p":2,"s":"D","x":0.0511,"y":320},{"p":2,"s":"D","x":0.0616,"y":97},{"p":2,"s":"D","x":0.0677,"y":116},{"p":2,"s":"D","x":0.0756,"y":469},{"p":2,"s":"D","x":0.083,"y":991},{"p":2,"s":"D","x":0.0896,"y":768},{"p":2,"s":"D","x":0.0967,"y":395},{"p":2,"s":"D","x":0.1028,"y":97},{"p":2,"s":"D","x":0.1089,"y":246},{"p":2,"s":"D","x":0.1142,"y":805},{"p":2,"s":"D","x":0.1212,"y":1364},{"p":2,"s":"D","x":0.1282,"y":1718},{"p":2,"s":"D","x":0.1326,"y":1736},{"p":2,"s":"D","x":0.1387,"y":1587},{"p":2,"s":"D","x":0.1442,"y":1364},{"p":2,"s":"D","x":0.1515,"y":1140},{"p":2,"s":"D","x":0.1588,"y":1028},{"p":2,"s":"D","x":0.1661,"y":1133},{"p":2,"s":"D","x":0.1735,"y":1170},{"p":2,"s":"D","x":0.1808,"y":1170},{"p":2,"s":"D","x":0.1881,"y":1259},{"p":2,"s":"D","x":0.1954,"y":1267},{"p":2,"s":"D","x":0.2,"y":1215},{"p":2,"s":"D","x":0.2046,"y":1084},{"p":2,"s":"D","x":0.2101,"y":1177},{"p":2,"s":"D","x":0.2156,"y":1550},{"p":2,"s":"D","x":0.221,"y":1960},{"p":2,"s":"D","x":0.2265,"y":2202},{"p":2,"s":"D","x":0.2311,"y":2165},{"p":2,"s":"D","x":0.2357,"y":1997},{"p":2,"s":"D","x":0.2393,"y":1885},{"p":2,"s":"D","x":0.2448,"y":1792},{"p":2,"s":"D","x":0.2503,"y":1587},{"p":2,"s":"D","x":0.2558,"y":1177},{"p":2,"s":"D","x":0.2604,"y":619},{"p":2,"s":"D","x":0.265,"y":302},{"p":2,"s":"D","x":0.2704,"y":302},{"p":2,"s":"D","x":0.2759,"y":432},{"p":2,"s":"D","x":0.2814,"y":619},{"p":2,"s":"D","x":0.2869,"y":637},{"p":2,"s":"D","x":0.2942,"y":507},{"p":2,"s":"D","x":0.3016,"y":320},{"p":2,"s":"D","x":0.3089,"y":227},{"p":2,"s":"D","x":0.3162,"y":209},{"p":2,"s":"D","x":0.3253,"y":227},{"p":2,"s":"D","x":0.3327,"y":358},{"p":2,"s":"D","x":0.34,"y":544},{"p":2,"s":"D","x":0.3473,"y":619},{"p":2,"s":"D","x":0.3546,"y":432},{"p":2,"s":"D","x":0.3619,"y":209},{"p":2,"s":"D","x":0.3674,"y":97},{"p":2,"s":"D","x":0.3711,"y":153},

    {"p":3,"s":"P","x":-0.4,"y":188},{"p":3,"s":"P","x":-0.3951,"y":113},{"p":3,"s":"P","x":-0.3898,"y":56},{"p":3,"s":"P","x":-0.3846,"y":113},{"p":3,"s":"P","x":-0.3814,"y":413},{"p":3,"s":"P","x":-0.3797,"y":938},{"p":3,"s":"P","x":-0.3785,"y":1088},{"p":3,"s":"P","x":-0.3767,"y":600},{"p":3,"s":"P","x":-0.3741,"y":244},{"p":3,"s":"P","x":-0.3706,"y":188},{"p":3,"s":"P","x":-0.3653,"y":263},{"p":3,"s":"P","x":-0.3609,"y":131},{"p":3,"s":"P","x":-0.3548,"y":169},{"p":3,"s":"P","x":-0.3496,"y":94},{"p":3,"s":"P","x":-0.3426,"y":75},{"p":3,"s":"P","x":-0.3356,"y":94},{"p":3,"s":"P","x":-0.3321,"y":113},{"p":3,"s":"P","x":-0.3289,"y":281},{"p":3,"s":"P","x":-0.325,"y":188},{"p":3,"s":"P","x":-0.3215,"y":113},{"p":3,"s":"P","x":-0.318,"y":38},{"p":3,"s":"P","x":-0.3145,"y":94},{"p":3,"s":"P","x":-0.311,"y":300},{"p":3,"s":"P","x":-0.3084,"y":863},{"p":3,"s":"P","x":-0.3063,"y":994},{"p":3,"s":"P","x":-0.304,"y":600},{"p":3,"s":"P","x":-0.3014,"y":300},{"p":3,"s":"P","x":-0.297,"y":150},{"p":3,"s":"P","x":-0.29,"y":94},{"p":3,"s":"P","x":-0.283,"y":75},{"p":3,"s":"P","x":-0.276,"y":206},{"p":3,"s":"P","x":-0.269,"y":113},{"p":3,"s":"P","x":-0.2655,"y":150},{"p":3,"s":"P","x":-0.2611,"y":281},{"p":3,"s":"P","x":-0.2567,"y":188},{"p":3,"s":"P","x":-0.2515,"y":75},{"p":3,"s":"P","x":-0.2445,"y":94},{"p":3,"s":"P","x":-0.2392,"y":113},{"p":3,"s":"P","x":-0.2357,"y":38},{"p":3,"s":"P","x":-0.2331,"y":188},{"p":3,"s":"P","x":-0.2305,"y":338},{"p":3,"s":"P","x":-0.2291,"y":788},{"p":3,"s":"P","x":-0.228,"y":994},{"p":3,"s":"P","x":-0.22,"y":null},{"p":3,"s":"P","x":-0.2112,"y":1200},{"p":3,"s":"P","x":-0.2094,"y":788},{"p":3,"s":"P","x":-0.2077,"y":338},{"p":3,"s":"P","x":-0.2064,"y":525},{"p":3,"s":"P","x":-0.2055,"y":null},{"p":3,"s":"P","x":-0.2042,"y":4669},{"p":3,"s":"P","x":-0.2004,"y":5200},{"p":3,"s":"P","x":-0.198,"y":null},{"p":3,"s":"P","x":-0.1954,"y":4313},{"p":3,"s":"P","x":-0.1946,"y":3413},{"p":3,"s":"P","x":-0.1933,"y":2363},{"p":3,"s":"P","x":-0.1916,"y":1875},{"p":3,"s":"P","x":-0.1893,"y":1725},{"p":3,"s":"P","x":-0.1876,"y":1350},{"p":3,"s":"P","x":-0.1858,"y":975},{"p":3,"s":"P","x":-0.1841,"y":675},{"p":3,"s":"P","x":-0.1814,"y":450},{"p":3,"s":"P","x":-0.1779,"y":263},{"p":3,"s":"P","x":-0.1765,"y":188},{"p":3,"s":"P","x":-0.1744,"y":600},{"p":3,"s":"P","x":-0.1718,"y":1538},{"p":3,"s":"P","x":-0.1704,"y":1706},{"p":3,"s":"P","x":-0.1687,"y":1500},{"p":3,"s":"P","x":-0.1666,"y":1725},{"p":3,"s":"P","x":-0.1643,"y":1575},{"p":3,"s":"P","x":-0.1622,"y":1163},{"p":3,"s":"P","x":-0.1587,"y":975},{"p":3,"s":"P","x":-0.156,"y":600},{"p":3,"s":"P","x":-0.1534,"y":300},{"p":3,"s":"P","x":-0.1499,"y":338},{"p":3,"s":"P","x":-0.1447,"y":281},{"p":3,"s":"P","x":-0.142,"y":263},{"p":3,"s":"P","x":-0.1394,"y":600},{"p":3,"s":"P","x":-0.1368,"y":263},{"p":3,"s":"P","x":-0.1333,"y":525},{"p":3,"s":"P","x":-0.1306,"y":788},{"p":3,"s":"P","x":-0.1289,"y":731},{"p":3,"s":"P","x":-0.1263,"y":450},{"p":3,"s":"P","x":-0.1236,"y":413},{"p":3,"s":"P","x":-0.1201,"y":281},{"p":3,"s":"P","x":-0.1166,"y":450},{"p":3,"s":"P","x":-0.1123,"y":788},{"p":3,"s":"P","x":-0.1088,"y":1388},{"p":3,"s":"P","x":-0.1061,"y":2288},{"p":3,"s":"P","x":-0.1049,"y":2850},{"p":3,"s":"P","x":-0.1039,"y":3469},{"p":3,"s":"P","x":-0.1026,"y":3338},{"p":3,"s":"P","x":-0.1018,"y":2850},{"p":3,"s":"P","x":-0.1009,"y":1913},{"p":3,"s":"P","x":-0.0991,"y":600},{"p":3,"s":"P","x":-0.0974,"y":188},{"p":3,"s":"P","x":-0.093,"y":94},{"p":3,"s":"P","x":-0.0877,"y":150},{"p":3,"s":"P","x":-0.086,"y":300},{"p":3,"s":"P","x":-0.0825,"y":1163},{"p":3,"s":"P","x":-0.0807,"y":1500},{"p":3,"s":"P","x":-0.0781,"y":450},{"p":3,"s":"P","x":-0.0737,"y":450},{"p":3,"s":"P","x":-0.0711,"y":413},{"p":3,"s":"P","x":-0.0685,"y":713},{"p":3,"s":"P","x":-0.065,"y":1125},{"p":3,"s":"P","x":-0.0623,"y":1425},{"p":3,"s":"P","x":-0.0597,"y":1163},{"p":3,"s":"P","x":-0.0562,"y":675},{"p":3,"s":"P","x":-0.0527,"y":488},{"p":3,"s":"P","x":-0.0492,"y":469},{"p":3,"s":"P","x":-0.0457,"y":375},{"p":3,"s":"P","x":-0.0431,"y":300},{"p":3,"s":"P","x":-0.0405,"y":94},{"p":3,"s":"P","x":-0.037,"y":188},{"p":3,"s":"P","x":-0.0343,"y":788},{"p":3,"s":"P","x":-0.0329,"y":2100},{"p":3,"s":"P","x":-0.0317,"y":3038},{"p":3,"s":"P","x":-0.0305,"y":3356},{"p":3,"s":"P","x":-0.0291,"y":2850},{"p":3,"s":"P","x":-0.0282,"y":2288},{"p":3,"s":"P","x":-0.0264,"y":1350},{"p":3,"s":"P","x":-0.0238,"y":1050},{"p":3,"s":"P","x":-0.0212,"y":713},{"p":3,"s":"P","x":-0.0186,"y":413},{"p":3,"s":"P","x":-0.0159,"y":113},{"p":3,"s":"P","x":-0.0124,"y":150},{"p":3,"s":"P","x":-0.0089,"y":675},{"p":3,"s":"P","x":-0.0063,"y":919},{"p":3,"s":"P","x":-0.0037,"y":619},{"p":3,"s":"P","x":-0.0011,"y":338},{"p":3,"s":"P","x":0.0016,"y":413},{"p":3,"s":"P","x":0.0042,"y":788},{"p":3,"s":"P","x":0.006,"y":1575},{"p":3,"s":"P","x":0.0086,"y":2044},{"p":3,"s":"P","x":0.0103,"y":1575},{"p":3,"s":"P","x":0.0121,"y":938},{"p":3,"s":"P","x":0.0138,"y":1425},{"p":3,"s":"P","x":0.0156,"y":1763},{"p":3,"s":"P","x":0.0173,"y":1163},{"p":3,"s":"P","x":0.02,"y":788},{"p":3,"s":"P","x":0.0222,"y":488},{"p":3,"s":"P","x":0.0247,"y":731},{"p":3,"s":"P","x":0.027,"y":488},{"p":3,"s":"P","x":0.0296,"y":600},{"p":3,"s":"P","x":0.0327,"y":1050},{"p":3,"s":"P","x":0.0349,"y":638},{"p":3,"s":"P","x":0.0375,"y":863},{"p":3,"s":"P","x":0.0398,"y":1013},{"p":3,"s":"P","x":0.0419,"y":619},{"p":3,"s":"P","x":0.0445,"y":338},{"p":3,"s":"P","x":0.0471,"y":263},{"p":3,"s":"P","x":0.0515,"y":338},{"p":3,"s":"P","x":0.0541,"y":413},{"p":3,"s":"P","x":0.0567,"y":488},{"p":3,"s":"P","x":0.0594,"y":525},{"p":3,"s":"P","x":0.0629,"y":525},{"p":3,"s":"P","x":0.0655,"y":1163},{"p":3,"s":"P","x":0.069,"y":1538},{"p":3,"s":"P","x":0.0716,"y":1163},{"p":3,"s":"P","x":0.0743,"y":600},{"p":3,"s":"P","x":0.0769,"y":188},{"p":3,"s":"P","x":0.0786,"y":113},{"p":3,"s":"P","x":0.0813,"y":300},{"p":3,"s":"P","x":0.0839,"y":600},{"p":3,"s":"P","x":0.086,"y":975},{"p":3,"s":"P","x":0.0877,"y":788},{"p":3,"s":"P","x":0.0897,"y":300},{"p":3,"s":"P","x":0.0926,"y":150},{"p":3,"s":"P","x":0.0953,"y":413},{"p":3,"s":"P","x":0.0979,"y":488},{"p":3,"s":"P","x":0.1005,"y":300},{"p":3,"s":"P","x":0.104,"y":188},{"p":3,"s":"P","x":0.1084,"y":206},{"p":3,"s":"P","x":0.1137,"y":113},{"p":3,"s":"P","x":0.1189,"y":150},{"p":3,"s":"P","x":0.1242,"y":188},{"p":3,"s":"P","x":0.1277,"y":225},{"p":3,"s":"P","x":0.1303,"y":600},{"p":3,"s":"P","x":0.1326,"y":1238},{"p":3,"s":"P","x":0.1347,"y":1463},{"p":3,"s":"P","x":0.1367,"y":1050},{"p":3,"s":"P","x":0.1385,"y":1013},{"p":3,"s":"P","x":0.1403,"y":788},{"p":3,"s":"P","x":0.1422,"y":619},{"p":3,"s":"P","x":0.144,"y":863},{"p":3,"s":"P","x":0.1453,"y":994},{"p":3,"s":"P","x":0.1467,"y":788},{"p":3,"s":"P","x":0.1485,"y":300},{"p":3,"s":"P","x":0.1504,"y":206},{"p":3,"s":"P","x":0.154,"y":244},{"p":3,"s":"P","x":0.1568,"y":488},{"p":3,"s":"P","x":0.1595,"y":788},{"p":3,"s":"P","x":0.1617,"y":656},{"p":3,"s":"P","x":0.1631,"y":863},{"p":3,"s":"P","x":0.1646,"y":1538},{"p":3,"s":"P","x":0.1668,"y":2550},{"p":3,"s":"P","x":0.1682,"y":2925},{"p":3,"s":"P","x":0.1695,"y":2625},{"p":3,"s":"P","x":0.1714,"y":2794},{"p":3,"s":"P","x":0.177,"y":null},{"p":3,"s":"P","x":0.1832,"y":5063},{"p":3,"s":"P","x":0.1859,"y":4538},{"p":3,"s":"P","x":0.1878,"y":4013},{"p":3,"s":"P","x":0.1887,"y":null},{"p":3,"s":"P","x":0.1896,"y":2981},{"p":3,"s":"P","x":0.1909,"y":2250},{"p":3,"s":"P","x":0.193,"y":null},{"p":3,"s":"P","x":0.1951,"y":5063},{"p":3,"s":"P","x":0.1969,"y":4050},{"p":3,"s":"P","x":0.1978,"y":3338},{"p":3,"s":"P","x":0.1987,"y":2363},{"p":3,"s":"P","x":0.2005,"y":2325},{"p":3,"s":"P","x":0.2024,"y":1913},{"p":3,"s":"P","x":0.2051,"y":1163},{"p":3,"s":"P","x":0.2069,"y":731},{"p":3,"s":"P","x":0.2097,"y":488},{"p":3,"s":"P","x":0.2115,"y":638},{"p":3,"s":"P","x":0.2142,"y":1069},{"p":3,"s":"P","x":0.217,"y":null},{"p":3,"s":"P","x":0.2197,"y":1856},{"p":3,"s":"P","x":0.2215,"y":788},{"p":3,"s":"P","x":0.223,"y":525},{"p":3,"s":"P","x":0.2243,"y":788},{"p":3,"s":"P","x":0.2261,"y":1838},{"p":3,"s":"P","x":0.2279,"y":1688},{"p":3,"s":"P","x":0.2297,"y":2213},{"p":3,"s":"P","x":0.2312,"y":3375},{"p":3,"s":"P","x":0.2328,"y":3113},{"p":3,"s":"P","x":0.2339,"y":2325},{"p":3,"s":"P","x":0.2352,"y":2663},{"p":3,"s":"P","x":0.237,"y":3356},{"p":3,"s":"P","x":0.2389,"y":2888},{"p":3,"s":"P","x":0.2407,"y":3188},{"p":3,"s":"P","x":0.2425,"y":3675},{"p":3,"s":"P","x":0.2438,"y":2663},{"p":3,"s":"P","x":0.2453,"y":1538},{"p":3,"s":"P","x":0.2471,"y":863},{"p":3,"s":"P","x":0.2489,"y":638},{"p":3,"s":"P","x":0.2507,"y":488},{"p":3,"s":"P","x":0.2526,"y":338},{"p":3,"s":"P","x":0.2553,"y":375},{"p":3,"s":"P","x":0.2577,"y":413},{"p":3,"s":"P","x":0.2599,"y":300},{"p":3,"s":"P","x":0.2626,"y":675},{"p":3,"s":"P","x":0.2644,"y":1913},{"p":3,"s":"P","x":0.2657,"y":2438},{"p":3,"s":"P","x":0.2672,"y":2850},{"p":3,"s":"P","x":0.27,"y":null},{"p":3,"s":"P","x":0.2759,"y":2213},{"p":3,"s":"P","x":0.2777,"y":2175},{"p":3,"s":"P","x":0.279,"y":1913},{"p":3,"s":"P","x":0.2805,"y":1163},{"p":3,"s":"P","x":0.2818,"y":450},{"p":3,"s":"P","x":0.2845,"y":225},{"p":3,"s":"P","x":0.2872,"y":169},{"p":3,"s":"P","x":0.2909,"y":225},{"p":3,"s":"P","x":0.2945,"y":413},{"p":3,"s":"P","x":0.2967,"y":600},{"p":3,"s":"P","x":0.2991,"y":413},{"p":3,"s":"P","x":0.3018,"y":113},{"p":3,"s":"P","x":0.3073,"y":38},{"p":3,"s":"P","x":0.3128,"y":19},{"p":3,"s":"P","x":0.3182,"y":131},{"p":3,"s":"P","x":0.321,"y":244},{"p":3,"s":"P","x":0.3237,"y":113},{"p":3,"s":"P","x":0.3292,"y":75},{"p":3,"s":"P","x":0.3347,"y":94},{"p":3,"s":"P","x":0.3401,"y":131},{"p":3,"s":"P","x":0.3456,"y":150},{"p":3,"s":"P","x":0.3493,"y":75},{"p":3,"s":"P","x":0.3566,"y":56},{"p":3,"s":"P","x":0.3657,"y":75},{"p":3,"s":"P","x":0.373,"y":75},{"p":3,"s":"P","x":0.3803,"y":131},{"p":3,"s":"P","x":0.3858,"y":244},{"p":3,"s":"P","x":0.3894,"y":188},{"p":3,"s":"P","x":0.3949,"y":113},{"p":3,"s":"P","x":0.4,"y":113},

    {"p":3,"s":"T","x":-0.4,"y":225},{"p":3,"s":"T","x":-0.3881,"y":263},{"p":3,"s":"T","x":-0.3776,"y":281},{"p":3,"s":"T","x":-0.3688,"y":300},{"p":3,"s":"T","x":-0.3618,"y":375},{"p":3,"s":"T","x":-0.3531,"y":525},{"p":3,"s":"T","x":-0.3461,"y":638},{"p":3,"s":"T","x":-0.3399,"y":731},{"p":3,"s":"T","x":-0.3356,"y":713},{"p":3,"s":"T","x":-0.3303,"y":656},{"p":3,"s":"T","x":-0.3233,"y":525},{"p":3,"s":"T","x":-0.3163,"y":450},{"p":3,"s":"T","x":-0.3093,"y":420},{"p":3,"s":"T","x":-0.3005,"y":450},{"p":3,"s":"T","x":-0.2935,"y":506},{"p":3,"s":"T","x":-0.2848,"y":600},{"p":3,"s":"T","x":-0.2778,"y":750},{"p":3,"s":"T","x":-0.269,"y":1013},{"p":3,"s":"T","x":-0.262,"y":1275},{"p":3,"s":"T","x":-0.255,"y":1444},{"p":3,"s":"T","x":-0.248,"y":1575},{"p":3,"s":"T","x":-0.241,"y":1658},{"p":3,"s":"T","x":-0.234,"y":1725},{"p":3,"s":"T","x":-0.227,"y":1875},{"p":3,"s":"T","x":-0.22,"y":2063},{"p":3,"s":"T","x":-0.213,"y":2325},{"p":3,"s":"T","x":-0.2063,"y":2468},{"p":3,"s":"T","x":-0.2007,"y":2393},{"p":3,"s":"T","x":-0.1937,"y":2306},{"p":3,"s":"T","x":-0.1849,"y":2138},{"p":3,"s":"T","x":-0.1779,"y":1950},{"p":3,"s":"T","x":-0.1709,"y":1856},{"p":3,"s":"T","x":-0.1639,"y":1744},{"p":3,"s":"T","x":-0.1569,"y":1575},{"p":3,"s":"T","x":-0.1499,"y":1388},{"p":3,"s":"T","x":-0.1429,"y":1200},{"p":3,"s":"T","x":-0.1359,"y":1050},{"p":3,"s":"T","x":-0.128,"y":975},{"p":3,"s":"T","x":-0.121,"y":919},{"p":3,"s":"T","x":-0.114,"y":900},{"p":3,"s":"T","x":-0.107,"y":863},{"p":3,"s":"T","x":-0.1,"y":844},{"p":3,"s":"T","x":-0.0947,"y":919},{"p":3,"s":"T","x":-0.0895,"y":1013},{"p":3,"s":"T","x":-0.0851,"y":1058},{"p":3,"s":"T","x":-0.0807,"y":975},{"p":3,"s":"T","x":-0.0737,"y":825},{"p":3,"s":"T","x":-0.065,"y":713},{"p":3,"s":"T","x":-0.0562,"y":638},{"p":3,"s":"T","x":-0.0475,"y":600},{"p":3,"s":"T","x":-0.0387,"y":593},{"p":3,"s":"T","x":-0.0282,"y":619},{"p":3,"s":"T","x":-0.0177,"y":656},{"p":3,"s":"T","x":-0.0089,"y":788},{"p":3,"s":"T","x":-0.0002,"y":938},{"p":3,"s":"T","x":0.0068,"y":1031},{"p":3,"s":"T","x":0.0121,"y":1058},{"p":3,"s":"T","x":0.0191,"y":975},{"p":3,"s":"T","x":0.0278,"y":788},{"p":3,"s":"T","x":0.0366,"y":656},{"p":3,"s":"T","x":0.0454,"y":608},{"p":3,"s":"T","x":0.0541,"y":581},{"p":3,"s":"T","x":0.0629,"y":600},{"p":3,"s":"T","x":0.0699,"y":638},{"p":3,"s":"T","x":0.0786,"y":619},{"p":3,"s":"T","x":0.0874,"y":600},{"p":3,"s":"T","x":0.0961,"y":619},{"p":3,"s":"T","x":0.1032,"y":675},{"p":3,"s":"T","x":0.1102,"y":788},{"p":3,"s":"T","x":0.1172,"y":975},{"p":3,"s":"T","x":0.1242,"y":1238},{"p":3,"s":"T","x":0.1312,"y":1500},{"p":3,"s":"T","x":0.1367,"y":1650},{"p":3,"s":"T","x":0.1467,"y":1913},{"p":3,"s":"T","x":0.1558,"y":2063},{"p":3,"s":"T","x":0.165,"y":2288},{"p":3,"s":"T","x":0.1741,"y":2588},{"p":3,"s":"T","x":0.1814,"y":3038},{"p":3,"s":"T","x":0.1869,"y":3413},{"p":3,"s":"T","x":0.1914,"y":3713},{"p":3,"s":"T","x":0.1942,"y":3881},{"p":3,"s":"T","x":0.1969,"y":3638},{"p":3,"s":"T","x":0.2015,"y":3300},{"p":3,"s":"T","x":0.2069,"y":2925},{"p":3,"s":"T","x":0.2142,"y":2513},{"p":3,"s":"T","x":0.2215,"y":2213},{"p":3,"s":"T","x":0.2288,"y":1800},{"p":3,"s":"T","x":0.2361,"y":1388},{"p":3,"s":"T","x":0.2434,"y":1050},{"p":3,"s":"T","x":0.2507,"y":825},{"p":3,"s":"T","x":0.258,"y":675},{"p":3,"s":"T","x":0.2672,"y":563},{"p":3,"s":"T","x":0.2763,"y":495},{"p":3,"s":"T","x":0.2854,"y":413},{"p":3,"s":"T","x":0.2964,"y":338},{"p":3,"s":"T","x":0.3073,"y":300},{"p":3,"s":"T","x":0.3182,"y":281},{"p":3,"s":"T","x":0.3292,"y":319},{"p":3,"s":"T","x":0.3401,"y":345},{"p":3,"s":"T","x":0.3511,"y":330},{"p":3,"s":"T","x":0.362,"y":300},{"p":3,"s":"T","x":0.373,"y":281},{"p":3,"s":"T","x":0.3839,"y":274},{"p":3,"s":"T","x":0.4,"y":270},

    {"p":3,"s":"D","x":-0.3522,"y":938},{"p":3,"s":"D","x":-0.3487,"y":731},{"p":3,"s":"D","x":-0.3443,"y":1050},{"p":3,"s":"D","x":-0.3391,"y":1219},{"p":3,"s":"D","x":-0.3347,"y":1125},{"p":3,"s":"D","x":-0.3303,"y":900},{"p":3,"s":"D","x":-0.325,"y":413},{"p":3,"s":"D","x":-0.3215,"y":113},{"p":3,"s":"D","x":-0.318,"y":56},{"p":3,"s":"D","x":-0.3128,"y":150},{"p":3,"s":"D","x":-0.3058,"y":244},{"p":3,"s":"D","x":-0.2988,"y":345},{"p":3,"s":"D","x":-0.2935,"y":338},{"p":3,"s":"D","x":-0.2865,"y":300},{"p":3,"s":"D","x":-0.2813,"y":356},{"p":3,"s":"D","x":-0.276,"y":600},{"p":3,"s":"D","x":-0.2708,"y":938},{"p":3,"s":"D","x":-0.2655,"y":1238},{"p":3,"s":"D","x":-0.2602,"y":1463},{"p":3,"s":"D","x":-0.255,"y":1650},{"p":3,"s":"D","x":-0.2515,"y":1744},{"p":3,"s":"D","x":-0.2471,"y":1763},{"p":3,"s":"D","x":-0.2419,"y":1680},{"p":3,"s":"D","x":-0.2366,"y":1631},{"p":3,"s":"D","x":-0.2305,"y":1669},{"p":3,"s":"D","x":-0.2261,"y":1706},{"p":3,"s":"D","x":-0.2217,"y":1913},{"p":3,"s":"D","x":-0.2172,"y":2363},{"p":3,"s":"D","x":-0.2128,"y":2813},{"p":3,"s":"D","x":-0.2084,"y":3075},{"p":3,"s":"D","x":-0.2053,"y":3150},{"p":3,"s":"D","x":-0.2014,"y":3000},{"p":3,"s":"D","x":-0.197,"y":2738},{"p":3,"s":"D","x":-0.1926,"y":2400},{"p":3,"s":"D","x":-0.1883,"y":2250},{"p":3,"s":"D","x":-0.183,"y":2119},{"p":3,"s":"D","x":-0.1779,"y":1913},{"p":3,"s":"D","x":-0.1718,"y":1894},{"p":3,"s":"D","x":-0.1639,"y":1920},{"p":3,"s":"D","x":-0.1587,"y":1838},{"p":3,"s":"D","x":-0.1534,"y":1575},{"p":3,"s":"D","x":-0.1482,"y":1313},{"p":3,"s":"D","x":-0.1429,"y":1013},{"p":3,"s":"D","x":-0.1377,"y":713},{"p":3,"s":"D","x":-0.1324,"y":544},{"p":3,"s":"D","x":-0.1298,"y":533},{"p":3,"s":"D","x":-0.121,"y":863},{"p":3,"s":"D","x":-0.1158,"y":881},{"p":3,"s":"D","x":-0.1105,"y":788},{"p":3,"s":"D","x":-0.1053,"y":600},{"p":3,"s":"D","x":-0.1,"y":450},{"p":3,"s":"D","x":-0.0965,"y":563},{"p":3,"s":"D","x":-0.093,"y":975},{"p":3,"s":"D","x":-0.0877,"y":1388},{"p":3,"s":"D","x":-0.0828,"y":1575},{"p":3,"s":"D","x":-0.079,"y":1350},{"p":3,"s":"D","x":-0.0737,"y":938},{"p":3,"s":"D","x":-0.0685,"y":563},{"p":3,"s":"D","x":-0.065,"y":506},{"p":3,"s":"D","x":-0.0597,"y":563},{"p":3,"s":"D","x":-0.0562,"y":544},{"p":3,"s":"D","x":-0.051,"y":450},{"p":3,"s":"D","x":-0.044,"y":431},{"p":3,"s":"D","x":-0.0405,"y":563},{"p":3,"s":"D","x":-0.0361,"y":825},{"p":3,"s":"D","x":-0.0299,"y":600},{"p":3,"s":"D","x":-0.0247,"y":338},{"p":3,"s":"D","x":-0.0212,"y":113},{"p":3,"s":"D","x":-0.0159,"y":150},{"p":3,"s":"D","x":-0.0107,"y":413},{"p":3,"s":"D","x":-0.0063,"y":713},{"p":3,"s":"D","x":-0.0002,"y":975},{"p":3,"s":"D","x":0.0068,"y":1200},{"p":3,"s":"D","x":0.013,"y":1369},{"p":3,"s":"D","x":0.0173,"y":1313},{"p":3,"s":"D","x":0.0226,"y":1088},{"p":3,"s":"D","x":0.027,"y":825},{"p":3,"s":"D","x":0.0322,"y":563},{"p":3,"s":"D","x":0.0384,"y":338},{"p":3,"s":"D","x":0.0436,"y":263},{"p":3,"s":"D","x":0.048,"y":281},{"p":3,"s":"D","x":0.0541,"y":375},{"p":3,"s":"D","x":0.0611,"y":563},{"p":3,"s":"D","x":0.0681,"y":694},{"p":3,"s":"D","x":0.0743,"y":638},{"p":3,"s":"D","x":0.0813,"y":450},{"p":3,"s":"D","x":0.0874,"y":413},{"p":3,"s":"D","x":0.0944,"y":431},{"p":3,"s":"D","x":0.1032,"y":375},{"p":3,"s":"D","x":0.1093,"y":281},{"p":3,"s":"D","x":0.1145,"y":413},{"p":3,"s":"D","x":0.1198,"y":788},{"p":3,"s":"D","x":0.1259,"y":1275},{"p":3,"s":"D","x":0.132,"y":1725},{"p":3,"s":"D","x":0.1367,"y":1781},{"p":3,"s":"D","x":0.1449,"y":1800},{"p":3,"s":"D","x":0.1577,"y":1688},{"p":3,"s":"D","x":0.1659,"y":1643},{"p":3,"s":"D","x":0.1704,"y":1725},{"p":3,"s":"D","x":0.1732,"y":1800},{"p":3,"s":"D","x":0.1759,"y":2288},{"p":3,"s":"D","x":0.1786,"y":2850},{"p":3,"s":"D","x":0.1814,"y":3525},{"p":3,"s":"D","x":0.185,"y":4050},{"p":3,"s":"D","x":0.1887,"y":4538},{"p":3,"s":"D","x":0.1923,"y":4950},{"p":3,"s":"D","x":0.1956,"y":4995},{"p":3,"s":"D","x":0.1987,"y":4763},{"p":3,"s":"D","x":0.2015,"y":4350},{"p":3,"s":"D","x":0.2042,"y":3863},{"p":3,"s":"D","x":0.2069,"y":3338},{"p":3,"s":"D","x":0.2097,"y":2738},{"p":3,"s":"D","x":0.2133,"y":2400},{"p":3,"s":"D","x":0.2179,"y":2288},{"p":3,"s":"D","x":0.2224,"y":2213},{"p":3,"s":"D","x":0.227,"y":1913},{"p":3,"s":"D","x":0.2325,"y":1538},{"p":3,"s":"D","x":0.238,"y":1125},{"p":3,"s":"D","x":0.2434,"y":788},{"p":3,"s":"D","x":0.2489,"y":563},{"p":3,"s":"D","x":0.2526,"y":469},{"p":3,"s":"D","x":0.2562,"y":338},{"p":3,"s":"D","x":0.2599,"y":244},{"p":3,"s":"D","x":0.2672,"y":300},{"p":3,"s":"D","x":0.2745,"y":394},{"p":3,"s":"D","x":0.2799,"y":413},{"p":3,"s":"D","x":0.2872,"y":431},{"p":3,"s":"D","x":0.2927,"y":413},{"p":3,"s":"D","x":0.2982,"y":338},{"p":3,"s":"D","x":0.3036,"y":150},{"p":3,"s":"D","x":0.3091,"y":38},{"p":3,"s":"D","x":0.3119,"y":-19},{"p":3,"s":"D","x":0.3164,"y":75},{"p":3,"s":"D","x":0.3219,"y":244},{"p":3,"s":"D","x":0.3292,"y":281},{"p":3,"s":"D","x":0.3383,"y":319},{"p":3,"s":"D","x":0.3474,"y":394},{"p":3,"s":"D","x":0.3547,"y":338},{"p":3,"s":"D","x":0.362,"y":206},{"p":3,"s":"D","x":0.3712,"y":158}
  ]},
  "facet": {"row": {"field": "p", "type": "ordinal", "title": null, "header": {"labels": false, "title": null}}},
  "spacing": {"row": 137},
  "resolve": {"axis": {"x": "independent", "y": "independent"}},
  "spec": {
    "width": 3197,
    "height": 483,
    "layer": [
      {
        "transform": [{"filter": "datum.s == 'g'"}],
        "mark": {"type": "rule", "color": "#b8b8b8", "strokeWidth": 1.8, "strokeDash": [3, 3]},
        "encoding": {"y": {"field": "y", "type": "quantitative", "scale": {"domain": [-55, 5000], "nice": false, "zero": false}}}
      },
      {
        "transform": [{"filter": "indexof(datum.s, 'Ext') == 0"}],
        "mark": {"type": "rule", "strokeCap": "butt", "strokeWidth": 8},
        "encoding": {
          "x": {"field": "x", "type": "quantitative", "scale": {"domain": [-0.4, 0.4], "nice": false, "zero": false}},
          "x2": {"field": "x2"},
          "y": {"field": "y", "type": "quantitative", "scale": {"domain": [-55, 5000], "nice": false, "zero": false}},
          "color": {
            "field": "s", "type": "nominal",
            "scale": {"domain": ["Ext. 1","Ext. 2","Ext. 3","Ext. 4","Ext. 5","P","T","D"], "range": ["#002a8c","#002a8c","#002a8c","#002a8c","#002a8c","#ff0000","#008000","#ff8000"]},
            "legend": {"orient": "none", "legendX": 2952, "legendY": 0, "title": null, "labelExpr": "datum.label == 'P' ? 'Polyimide' : datum.label == 'T' ? 'Thorlabs' : datum.label == 'D' ? 'DIC' : datum.label"}
          }
        }
      },
      {
        "transform": [{"filter": "datum.s == 'X'"}],
        "mark": {"type": "rule", "strokeCap": "butt", "color": "#4b0082", "strokeWidth": 8},
        "encoding": {
          "x": {"field": "x", "type": "quantitative"},
          "x2": {"field": "x2"},
          "y": {"field": "y", "type": "quantitative"}
        }
      },
      {
        "transform": [{"filter": "datum.s == 'P'"}],
        "mark": {"type": "line", "clip": true, "invalid": "break-paths-show-domains", "strokeJoin": "round", "strokeWidth": 2.5},
        "encoding": {
          "x": {
            "field": "x", "type": "quantitative",
            "axis": {
              "title": null,
              "values": [-0.4,-0.38,-0.36,-0.34,-0.32,-0.3,-0.28,-0.26,-0.24,-0.22,-0.2,-0.18,-0.16,-0.14,-0.12,-0.1,-0.08,-0.06,-0.04,-0.02,0,0.02,0.04,0.06,0.08,0.1,0.12,0.14,0.16,0.18,0.2,0.22,0.24,0.26,0.28,0.3,0.32,0.34,0.36,0.38,0.4],
              "labelExpr": "abs(datum.value*10 - round(datum.value*10)) < 0.001 ? '' + round(datum.value*10)/10 : ''",
              "tickOpacity": {"condition": {"test": "abs(datum.value*10 - round(datum.value*10)) < 0.001", "value": 1}, "value": 0},
              "labelOverlap": false,
              "labelFlush": false,
              "labelPadding": 58
            }
          },
          "y": {
            "field": "y", "type": "quantitative",
            "axis": {
              "title": ["Strain / Apparent strain", "[μm/m]"],
              "titleY": 266,
              "values": [0, 1000, 2000, 3000, 4000, 5000],
              "format": "d",
              "labelOverlap": false,
              "labelFlush": false,
              "labelPadding": 50
            }
          },
          "color": {
            "field": "s", "type": "nominal",
            "legend": {"orient": "none", "legendX": 2952, "legendY": 0, "title": null, "labelExpr": "datum.label == 'P' ? 'Polyimide' : datum.label == 'T' ? 'Thorlabs' : datum.label == 'D' ? 'DIC' : datum.label"}
          }
        }
      },
      {
        "transform": [{"filter": "datum.s == 'T'"}],
        "mark": {"type": "line", "clip": true, "strokeJoin": "round", "strokeWidth": 3.5},
        "encoding": {
          "x": {"field": "x", "type": "quantitative"},
          "y": {"field": "y", "type": "quantitative"},
          "color": {
            "field": "s", "type": "nominal",
            "legend": {"orient": "none", "legendX": 2952, "legendY": 0, "title": null, "labelExpr": "datum.label == 'P' ? 'Polyimide' : datum.label == 'T' ? 'Thorlabs' : datum.label == 'D' ? 'DIC' : datum.label"}
          }
        }
      },
      {
        "transform": [{"filter": "datum.s == 'D'"}],
        "mark": {"type": "line", "clip": true, "strokeJoin": "round", "strokeWidth": 2.5},
        "encoding": {
          "x": {"field": "x", "type": "quantitative"},
          "y": {"field": "y", "type": "quantitative"},
          "color": {
            "field": "s", "type": "nominal",
            "legend": {"orient": "none", "legendX": 2952, "legendY": 0, "title": null, "labelExpr": "datum.label == 'P' ? 'Polyimide' : datum.label == 'T' ? 'Thorlabs' : datum.label == 'D' ? 'DIC' : datum.label"}
          }
        }
      },
      {
        "transform": [{"filter": "datum.s == 'lim'"}],
        "mark": {"type": "rule", "color": "black", "strokeWidth": 5, "strokeDash": [24, 16]},
        "encoding": {"y": {"field": "y", "type": "quantitative"}}
      },
      {
        "transform": [{"filter": "datum.s == 'sec'"}],
        "mark": {"type": "rule", "color": "black", "strokeWidth": 7, "strokeDash": [42, 42], "clip": false},
        "encoding": {
          "x": {"field": "x", "type": "quantitative"},
          "y": {"field": "y", "type": "quantitative"},
          "y2": {"field": "y2"}
        }
      },
      {
        "transform": [{"filter": "datum.s == 'lab'"}],
        "mark": {"type": "text", "align": "left", "baseline": "alphabetic", "dx": 11, "dy": 54, "fontSize": 47, "color": "black"},
        "encoding": {
          "x": {"datum": -0.4, "type": "quantitative"},
          "y": {"datum": 5000, "type": "quantitative"},
          "text": {"field": "t"}
        }
      },
      {
        "transform": [{"filter": "datum.s == 'lim' && datum.k == 'u'"}],
        "mark": {"type": "text", "text": "ε", "align": "right", "baseline": "alphabetic", "dx": -46, "dy": 4, "fontSize": 40, "color": "black"},
        "encoding": {"x": {"datum": -0.4, "type": "quantitative"}, "y": {"field": "y", "type": "quantitative"}}
      },
      {
        "transform": [{"filter": "datum.s == 'lim' && datum.k == 'u'"}],
        "mark": {"type": "text", "align": "right", "baseline": "alphabetic", "dx": -23, "dy": 29, "fontSize": 40, "color": "black"},
        "encoding": {"x": {"datum": -0.4, "type": "quantitative"}, "y": {"field": "y", "type": "quantitative"}, "text": {"field": "k"}}
      },
      {
        "transform": [{"filter": "datum.s == 'lim' && datum.k == 'e'"}],
        "mark": {"type": "text", "text": "ε", "align": "right", "baseline": "alphabetic", "dx": -46, "dy": -32, "fontSize": 40, "color": "black"},
        "encoding": {"x": {"datum": -0.4, "type": "quantitative"}, "y": {"field": "y", "type": "quantitative"}}
      },
      {
        "transform": [{"filter": "datum.s == 'lim' && datum.k == 'e'"}],
        "mark": {"type": "text", "align": "right", "baseline": "alphabetic", "dx": -23, "dy": -7, "fontSize": 40, "color": "black"},
        "encoding": {"x": {"datum": -0.4, "type": "quantitative"}, "y": {"field": "y", "type": "quantitative"}, "text": {"field": "k"}}
      }
    ]
  },
  "config": {
    "font": "Liberation Sans",
    "view": {"stroke": "#262626", "strokeWidth": 2.5},
    "axis": {
      "domain": false,
      "grid": true,
      "gridColor": "#b8b8b8",
      "gridDash": [3, 3],
      "gridWidth": 1.8,
      "ticks": true,
      "tickSize": -32,
      "tickWidth": 2.5,
      "tickColor": "#262626",
      "labelFont": "Liberation Sans",
      "labelFontSize": 48,
      "labelColor": "#262626",
      "labelOverlap": false,
      "labelFlush": false,
      "titleFont": "Liberation Sans",
      "titleFontSize": 54,
      "titleFontWeight": "normal",
      "titleColor": "#262626",
      "titleLineHeight": 68,
      "titlePadding": 41
    },
    "legend": {
      "labelFont": "Liberation Sans",
      "labelFontSize": 44,
      "labelColor": "black",
      "labelLimit": 400,
      "labelOffset": 23,
      "symbolType": "stroke",
      "symbolSize": 3364,
      "symbolStrokeWidth": 5,
      "rowPadding": 4,
      "padding": 8,
      "fillColor": "white",
      "strokeColor": "#262626"
    }
  }
}
